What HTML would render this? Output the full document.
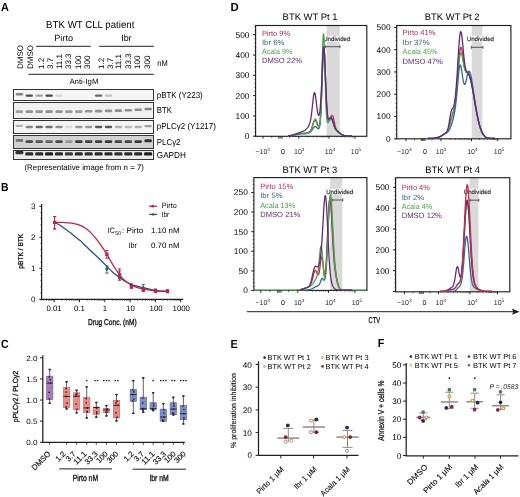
<!DOCTYPE html>
<html><head><meta charset="utf-8"><style>
html,body{margin:0;padding:0;background:#fff;}
svg{display:block;will-change:transform;text-rendering:geometricPrecision;font-family:"Liberation Sans", sans-serif;}
</style></head><body>
<svg width="520" height="497" viewBox="0 0 520 497">
<rect width="520" height="497" fill="#fff"/>
<text x="0.90" y="10.70" font-size="11.8" textLength="7.90" lengthAdjust="spacingAndGlyphs" font-weight="bold">A</text>
<text x="46.10" y="27.80" font-size="10.2" textLength="88.30" lengthAdjust="spacingAndGlyphs">BTK WT CLL patient</text>
<text x="54.30" y="41.20" font-size="9.0" textLength="18.70" lengthAdjust="spacingAndGlyphs">Pirto</text>
<text x="121.20" y="41.20" font-size="9.0" textLength="10.40" lengthAdjust="spacingAndGlyphs">Ibr</text>
<line x1="36.20" y1="46.30" x2="90.80" y2="46.30" stroke="#231f20" stroke-width="1.0"/>
<line x1="99.20" y1="46.30" x2="153.90" y2="46.30" stroke="#231f20" stroke-width="1.0"/>
<text x="23.20" y="69.00" font-size="8.0" textLength="24.00" lengthAdjust="spacingAndGlyphs" transform="rotate(-90 23.20 69.00)">DMSO</text>
<text x="33.40" y="69.00" font-size="8.0" textLength="24.00" lengthAdjust="spacingAndGlyphs" transform="rotate(-90 33.40 69.00)">DMSO</text>
<text x="44.10" y="69.00" font-size="8.0" transform="rotate(-90 44.10 69.00)">1.2</text>
<text x="52.90" y="69.00" font-size="8.0" transform="rotate(-90 52.90 69.00)">3.7</text>
<text x="61.80" y="69.00" font-size="8.0" transform="rotate(-90 61.80 69.00)">11.1</text>
<text x="71.10" y="69.00" font-size="8.0" transform="rotate(-90 71.10 69.00)">33.3</text>
<text x="81.10" y="69.00" font-size="8.0" transform="rotate(-90 81.10 69.00)">100</text>
<text x="90.30" y="69.00" font-size="8.0" transform="rotate(-90 90.30 69.00)">300</text>
<text x="104.00" y="69.00" font-size="8.0" transform="rotate(-90 104.00 69.00)">1.2</text>
<text x="113.20" y="69.00" font-size="8.0" transform="rotate(-90 113.20 69.00)">3.7</text>
<text x="121.30" y="69.00" font-size="8.0" transform="rotate(-90 121.30 69.00)">11.1</text>
<text x="130.90" y="69.00" font-size="8.0" transform="rotate(-90 130.90 69.00)">33.3</text>
<text x="140.40" y="69.00" font-size="8.0" transform="rotate(-90 140.40 69.00)">100</text>
<text x="150.30" y="69.00" font-size="8.0" transform="rotate(-90 150.30 69.00)">300</text>
<text x="157.30" y="65.70" font-size="8.5" textLength="10.40" lengthAdjust="spacingAndGlyphs">nM</text>
<line x1="28.50" y1="74.30" x2="153.90" y2="74.30" stroke="#231f20" stroke-width="1.0"/>
<text x="69.40" y="84.00" font-size="7.8" textLength="29.00" lengthAdjust="spacingAndGlyphs">Anti-IgM</text>
<defs><filter id="bl" x="-20%" y="-50%" width="140%" height="200%"><feGaussianBlur stdDeviation="0.45"/></filter></defs>
<rect x="13.50" y="89.50" width="140.00" height="11.00" fill="#f5f5f5"/>
<g filter="url(#bl)">
<rect x="15.70" y="93.10" width="7.4" height="2.40" rx="1.2" fill="rgb(132,132,132)"/>
<rect x="25.60" y="94.40" width="7.4" height="2.40" rx="1.2" fill="rgb(78,78,78)"/>
<rect x="35.50" y="94.40" width="7.4" height="2.40" rx="1.2" fill="rgb(164,164,164)"/>
<rect x="45.40" y="94.40" width="7.4" height="2.40" rx="1.2" fill="rgb(72,72,72)"/>
<rect x="55.30" y="94.40" width="7.4" height="2.40" rx="1.2" fill="rgb(214,214,214)"/>
<rect x="94.90" y="94.40" width="7.4" height="2.40" rx="1.2" fill="rgb(106,106,106)"/>
<rect x="104.80" y="94.40" width="7.4" height="2.40" rx="1.2" fill="rgb(192,192,192)"/>
</g>
<rect x="13.50" y="89.50" width="140.00" height="11.00" fill="none" stroke="#333333" stroke-width="1.0"/>
<rect x="13.50" y="102.50" width="140.00" height="16.00" fill="#f0f0f0"/>
<g filter="url(#bl)">
<rect x="15.70" y="110.30" width="7.4" height="2.60" rx="1.2" fill="rgb(158,158,158)"/>
<rect x="25.60" y="110.30" width="7.4" height="2.60" rx="1.2" fill="rgb(145,145,145)"/>
<rect x="35.50" y="110.30" width="7.4" height="2.60" rx="1.2" fill="rgb(145,145,145)"/>
<rect x="45.40" y="110.30" width="7.4" height="2.60" rx="1.2" fill="rgb(141,141,141)"/>
<rect x="55.30" y="110.30" width="7.4" height="2.60" rx="1.2" fill="rgb(145,145,145)"/>
<rect x="65.20" y="110.30" width="7.4" height="2.60" rx="1.2" fill="rgb(154,154,154)"/>
<rect x="75.10" y="110.30" width="7.4" height="2.60" rx="1.2" fill="rgb(154,154,154)"/>
<rect x="85.00" y="110.00" width="7.4" height="2.60" rx="1.2" fill="rgb(145,145,145)"/>
<rect x="94.90" y="109.80" width="7.4" height="2.60" rx="1.2" fill="rgb(145,145,145)"/>
<rect x="104.80" y="109.60" width="7.4" height="2.60" rx="1.2" fill="rgb(145,145,145)"/>
<rect x="114.70" y="109.30" width="7.4" height="2.60" rx="1.2" fill="rgb(145,145,145)"/>
<rect x="124.60" y="109.00" width="7.4" height="2.60" rx="1.2" fill="rgb(145,145,145)"/>
<rect x="134.50" y="108.50" width="7.4" height="2.60" rx="1.2" fill="rgb(141,141,141)"/>
<rect x="144.40" y="107.70" width="7.4" height="2.60" rx="1.2" fill="rgb(132,132,132)"/>
</g>
<rect x="13.50" y="102.50" width="140.00" height="16.00" fill="none" stroke="#333333" stroke-width="1.0"/>
<rect x="13.50" y="120.50" width="140.00" height="13.00" fill="#f4f4f4"/>
<g filter="url(#bl)">
<rect x="15.70" y="124.65" width="7.4" height="2.30" rx="1.2" fill="rgb(175,175,175)"/>
<rect x="25.60" y="125.85" width="7.4" height="2.30" rx="1.2" fill="rgb(132,132,132)"/>
<rect x="35.50" y="125.85" width="7.4" height="2.30" rx="1.2" fill="rgb(100,100,100)"/>
<rect x="45.40" y="125.85" width="7.4" height="2.30" rx="1.2" fill="rgb(111,111,111)"/>
<rect x="55.30" y="125.85" width="7.4" height="2.30" rx="1.2" fill="rgb(143,143,143)"/>
<rect x="65.20" y="125.85" width="7.4" height="2.30" rx="1.2" fill="rgb(218,218,218)"/>
<rect x="75.10" y="125.85" width="7.4" height="2.30" rx="1.2" fill="rgb(149,149,149)"/>
<rect x="85.00" y="125.85" width="7.4" height="2.30" rx="1.2" fill="rgb(154,154,154)"/>
<rect x="94.90" y="125.85" width="7.4" height="2.30" rx="1.2" fill="rgb(89,89,89)"/>
<rect x="104.80" y="125.85" width="7.4" height="2.30" rx="1.2" fill="rgb(89,89,89)"/>
<rect x="114.70" y="125.85" width="7.4" height="2.30" rx="1.2" fill="rgb(175,175,175)"/>
<rect x="124.60" y="125.85" width="7.4" height="2.30" rx="1.2" fill="rgb(186,186,186)"/>
<rect x="134.50" y="125.85" width="7.4" height="2.30" rx="1.2" fill="rgb(175,175,175)"/>
<rect x="144.40" y="125.05" width="7.4" height="2.30" rx="1.2" fill="rgb(158,158,158)"/>
</g>
<rect x="13.50" y="120.50" width="140.00" height="13.00" fill="none" stroke="#333333" stroke-width="1.0"/>
<rect x="13.50" y="135.50" width="140.00" height="13.00" fill="#d2d2d2"/>
<g filter="url(#bl)">
<rect x="15.70" y="138.95" width="7.4" height="2.90" rx="1.2" fill="rgb(111,111,111)"/>
<rect x="25.60" y="140.15" width="7.4" height="2.90" rx="1.2" fill="rgb(72,72,72)"/>
<rect x="35.50" y="140.15" width="7.4" height="2.90" rx="1.2" fill="rgb(85,85,85)"/>
<rect x="45.40" y="140.15" width="7.4" height="2.90" rx="1.2" fill="rgb(98,98,98)"/>
<rect x="55.30" y="140.15" width="7.4" height="2.90" rx="1.2" fill="rgb(72,72,72)"/>
<rect x="65.20" y="140.15" width="7.4" height="2.90" rx="1.2" fill="rgb(149,149,149)"/>
<rect x="75.10" y="140.15" width="7.4" height="2.90" rx="1.2" fill="rgb(57,57,57)"/>
<rect x="85.00" y="140.15" width="7.4" height="2.90" rx="1.2" fill="rgb(63,63,63)"/>
<rect x="94.90" y="140.15" width="7.4" height="2.90" rx="1.2" fill="rgb(63,63,63)"/>
<rect x="104.80" y="140.15" width="7.4" height="2.90" rx="1.2" fill="rgb(57,57,57)"/>
<rect x="114.70" y="140.15" width="7.4" height="2.90" rx="1.2" fill="rgb(68,68,68)"/>
<rect x="124.60" y="140.15" width="7.4" height="2.90" rx="1.2" fill="rgb(68,68,68)"/>
<rect x="134.50" y="140.15" width="7.4" height="2.90" rx="1.2" fill="rgb(57,57,57)"/>
<rect x="144.40" y="139.35" width="7.4" height="2.90" rx="1.2" fill="rgb(46,46,46)"/>
</g>
<rect x="13.50" y="135.50" width="140.00" height="13.00" fill="none" stroke="#333333" stroke-width="1.0"/>
<rect x="13.50" y="150.50" width="140.00" height="9.00" fill="#ececec"/>
<g filter="url(#bl)">
<rect x="15.40" y="150.90" width="8.0" height="3.40" rx="1.2" fill="rgb(50,50,50)"/>
<rect x="25.30" y="152.20" width="8.0" height="3.40" rx="1.2" fill="rgb(42,42,42)"/>
<rect x="35.20" y="152.20" width="8.0" height="3.40" rx="1.2" fill="rgb(42,42,42)"/>
<rect x="45.10" y="152.20" width="8.0" height="3.40" rx="1.2" fill="rgb(31,31,31)"/>
<rect x="55.00" y="152.20" width="8.0" height="3.40" rx="1.2" fill="rgb(42,42,42)"/>
<rect x="64.90" y="152.20" width="8.0" height="3.40" rx="1.2" fill="rgb(57,57,57)"/>
<rect x="74.80" y="152.20" width="8.0" height="3.40" rx="1.2" fill="rgb(42,42,42)"/>
<rect x="84.70" y="152.20" width="8.0" height="3.40" rx="1.2" fill="rgb(46,46,46)"/>
<rect x="94.60" y="152.20" width="8.0" height="3.40" rx="1.2" fill="rgb(42,42,42)"/>
<rect x="104.50" y="152.20" width="8.0" height="3.40" rx="1.2" fill="rgb(42,42,42)"/>
<rect x="114.40" y="152.20" width="8.0" height="3.40" rx="1.2" fill="rgb(46,46,46)"/>
<rect x="124.30" y="152.20" width="8.0" height="3.40" rx="1.2" fill="rgb(42,42,42)"/>
<rect x="134.20" y="152.20" width="8.0" height="3.40" rx="1.2" fill="rgb(42,42,42)"/>
<rect x="144.10" y="152.20" width="8.0" height="3.40" rx="1.2" fill="rgb(31,31,31)"/>
</g>
<rect x="13.50" y="150.50" width="140.00" height="9.00" fill="none" stroke="#333333" stroke-width="1.0"/>
<text x="156.80" y="97.80" font-size="8.6" textLength="45.90" lengthAdjust="spacingAndGlyphs">pBTK (Y223)</text>
<text x="156.80" y="113.20" font-size="8.6" textLength="15.10" lengthAdjust="spacingAndGlyphs">BTK</text>
<text x="156.80" y="129.20" font-size="8.6" textLength="59.10" lengthAdjust="spacingAndGlyphs">pPLC&#947;2 (Y1217)</text>
<text x="156.80" y="144.90" font-size="8.6" textLength="23.70" lengthAdjust="spacingAndGlyphs">PLC&#947;2</text>
<text x="156.80" y="158.30" font-size="8.6" textLength="29.10" lengthAdjust="spacingAndGlyphs">GAPDH</text>
<text x="24.50" y="170.30" font-size="7.9" textLength="119.40" lengthAdjust="spacingAndGlyphs">(Representative image from n = 7)</text>
<text x="0.90" y="191.10" font-size="11.8" textLength="7.50" lengthAdjust="spacingAndGlyphs" font-weight="bold">B</text>
<line x1="41.60" y1="203.90" x2="41.60" y2="299.90" stroke="#231f20" stroke-width="1.25"/>
<line x1="41.10" y1="299.30" x2="183.30" y2="299.30" stroke="#231f20" stroke-width="1.25"/>
<line x1="39.30" y1="299.30" x2="41.60" y2="299.30" stroke="#231f20" stroke-width="1.0"/>
<text x="35.40" y="301.50" font-size="8.0" text-anchor="end">0</text>
<line x1="39.30" y1="268.30" x2="41.60" y2="268.30" stroke="#231f20" stroke-width="1.0"/>
<text x="35.40" y="270.50" font-size="8.0" text-anchor="end">1</text>
<line x1="39.30" y1="237.30" x2="41.60" y2="237.30" stroke="#231f20" stroke-width="1.0"/>
<text x="35.40" y="239.50" font-size="8.0" text-anchor="end">2</text>
<line x1="39.30" y1="206.30" x2="41.60" y2="206.30" stroke="#231f20" stroke-width="1.0"/>
<text x="35.40" y="208.50" font-size="8.0" text-anchor="end">3</text>
<line x1="40.30" y1="293.10" x2="41.60" y2="293.10" stroke="#231f20" stroke-width="0.7"/>
<line x1="40.30" y1="286.90" x2="41.60" y2="286.90" stroke="#231f20" stroke-width="0.7"/>
<line x1="40.30" y1="280.70" x2="41.60" y2="280.70" stroke="#231f20" stroke-width="0.7"/>
<line x1="40.30" y1="274.50" x2="41.60" y2="274.50" stroke="#231f20" stroke-width="0.7"/>
<line x1="40.30" y1="262.10" x2="41.60" y2="262.10" stroke="#231f20" stroke-width="0.7"/>
<line x1="40.30" y1="255.90" x2="41.60" y2="255.90" stroke="#231f20" stroke-width="0.7"/>
<line x1="40.30" y1="249.70" x2="41.60" y2="249.70" stroke="#231f20" stroke-width="0.7"/>
<line x1="40.30" y1="243.50" x2="41.60" y2="243.50" stroke="#231f20" stroke-width="0.7"/>
<line x1="40.30" y1="231.10" x2="41.60" y2="231.10" stroke="#231f20" stroke-width="0.7"/>
<line x1="40.30" y1="224.90" x2="41.60" y2="224.90" stroke="#231f20" stroke-width="0.7"/>
<line x1="40.30" y1="218.70" x2="41.60" y2="218.70" stroke="#231f20" stroke-width="0.7"/>
<line x1="40.30" y1="212.50" x2="41.60" y2="212.50" stroke="#231f20" stroke-width="0.7"/>
<line x1="40.97" y1="299.30" x2="40.97" y2="300.90" stroke="#231f20" stroke-width="0.6"/>
<line x1="44.13" y1="299.30" x2="44.13" y2="300.90" stroke="#231f20" stroke-width="0.6"/>
<line x1="46.58" y1="299.30" x2="46.58" y2="300.90" stroke="#231f20" stroke-width="0.6"/>
<line x1="48.59" y1="299.30" x2="48.59" y2="300.90" stroke="#231f20" stroke-width="0.6"/>
<line x1="50.28" y1="299.30" x2="50.28" y2="300.90" stroke="#231f20" stroke-width="0.6"/>
<line x1="51.75" y1="299.30" x2="51.75" y2="300.90" stroke="#231f20" stroke-width="0.6"/>
<line x1="53.04" y1="299.30" x2="53.04" y2="300.90" stroke="#231f20" stroke-width="0.6"/>
<line x1="54.20" y1="299.30" x2="54.20" y2="302.20" stroke="#231f20" stroke-width="1.0"/>
<line x1="61.82" y1="299.30" x2="61.82" y2="300.90" stroke="#231f20" stroke-width="0.6"/>
<line x1="66.27" y1="299.30" x2="66.27" y2="300.90" stroke="#231f20" stroke-width="0.6"/>
<line x1="69.43" y1="299.30" x2="69.43" y2="300.90" stroke="#231f20" stroke-width="0.6"/>
<line x1="71.88" y1="299.30" x2="71.88" y2="300.90" stroke="#231f20" stroke-width="0.6"/>
<line x1="73.89" y1="299.30" x2="73.89" y2="300.90" stroke="#231f20" stroke-width="0.6"/>
<line x1="75.58" y1="299.30" x2="75.58" y2="300.90" stroke="#231f20" stroke-width="0.6"/>
<line x1="77.05" y1="299.30" x2="77.05" y2="300.90" stroke="#231f20" stroke-width="0.6"/>
<line x1="78.34" y1="299.30" x2="78.34" y2="300.90" stroke="#231f20" stroke-width="0.6"/>
<line x1="79.50" y1="299.30" x2="79.50" y2="302.20" stroke="#231f20" stroke-width="1.0"/>
<line x1="87.12" y1="299.30" x2="87.12" y2="300.90" stroke="#231f20" stroke-width="0.6"/>
<line x1="91.57" y1="299.30" x2="91.57" y2="300.90" stroke="#231f20" stroke-width="0.6"/>
<line x1="94.73" y1="299.30" x2="94.73" y2="300.90" stroke="#231f20" stroke-width="0.6"/>
<line x1="97.18" y1="299.30" x2="97.18" y2="300.90" stroke="#231f20" stroke-width="0.6"/>
<line x1="99.19" y1="299.30" x2="99.19" y2="300.90" stroke="#231f20" stroke-width="0.6"/>
<line x1="100.88" y1="299.30" x2="100.88" y2="300.90" stroke="#231f20" stroke-width="0.6"/>
<line x1="102.35" y1="299.30" x2="102.35" y2="300.90" stroke="#231f20" stroke-width="0.6"/>
<line x1="103.64" y1="299.30" x2="103.64" y2="300.90" stroke="#231f20" stroke-width="0.6"/>
<line x1="104.80" y1="299.30" x2="104.80" y2="302.20" stroke="#231f20" stroke-width="1.0"/>
<line x1="112.42" y1="299.30" x2="112.42" y2="300.90" stroke="#231f20" stroke-width="0.6"/>
<line x1="116.87" y1="299.30" x2="116.87" y2="300.90" stroke="#231f20" stroke-width="0.6"/>
<line x1="120.03" y1="299.30" x2="120.03" y2="300.90" stroke="#231f20" stroke-width="0.6"/>
<line x1="122.48" y1="299.30" x2="122.48" y2="300.90" stroke="#231f20" stroke-width="0.6"/>
<line x1="124.49" y1="299.30" x2="124.49" y2="300.90" stroke="#231f20" stroke-width="0.6"/>
<line x1="126.18" y1="299.30" x2="126.18" y2="300.90" stroke="#231f20" stroke-width="0.6"/>
<line x1="127.65" y1="299.30" x2="127.65" y2="300.90" stroke="#231f20" stroke-width="0.6"/>
<line x1="128.94" y1="299.30" x2="128.94" y2="300.90" stroke="#231f20" stroke-width="0.6"/>
<line x1="130.10" y1="299.30" x2="130.10" y2="302.20" stroke="#231f20" stroke-width="1.0"/>
<line x1="137.72" y1="299.30" x2="137.72" y2="300.90" stroke="#231f20" stroke-width="0.6"/>
<line x1="142.17" y1="299.30" x2="142.17" y2="300.90" stroke="#231f20" stroke-width="0.6"/>
<line x1="145.33" y1="299.30" x2="145.33" y2="300.90" stroke="#231f20" stroke-width="0.6"/>
<line x1="147.78" y1="299.30" x2="147.78" y2="300.90" stroke="#231f20" stroke-width="0.6"/>
<line x1="149.79" y1="299.30" x2="149.79" y2="300.90" stroke="#231f20" stroke-width="0.6"/>
<line x1="151.48" y1="299.30" x2="151.48" y2="300.90" stroke="#231f20" stroke-width="0.6"/>
<line x1="152.95" y1="299.30" x2="152.95" y2="300.90" stroke="#231f20" stroke-width="0.6"/>
<line x1="154.24" y1="299.30" x2="154.24" y2="300.90" stroke="#231f20" stroke-width="0.6"/>
<line x1="155.40" y1="299.30" x2="155.40" y2="302.20" stroke="#231f20" stroke-width="1.0"/>
<line x1="163.02" y1="299.30" x2="163.02" y2="300.90" stroke="#231f20" stroke-width="0.6"/>
<line x1="167.47" y1="299.30" x2="167.47" y2="300.90" stroke="#231f20" stroke-width="0.6"/>
<line x1="170.63" y1="299.30" x2="170.63" y2="300.90" stroke="#231f20" stroke-width="0.6"/>
<line x1="173.08" y1="299.30" x2="173.08" y2="300.90" stroke="#231f20" stroke-width="0.6"/>
<line x1="175.09" y1="299.30" x2="175.09" y2="300.90" stroke="#231f20" stroke-width="0.6"/>
<line x1="176.78" y1="299.30" x2="176.78" y2="300.90" stroke="#231f20" stroke-width="0.6"/>
<line x1="178.25" y1="299.30" x2="178.25" y2="300.90" stroke="#231f20" stroke-width="0.6"/>
<line x1="179.54" y1="299.30" x2="179.54" y2="300.90" stroke="#231f20" stroke-width="0.6"/>
<line x1="180.70" y1="299.30" x2="180.70" y2="302.20" stroke="#231f20" stroke-width="1.0"/>
<text x="54.00" y="311.40" font-size="7.8" text-anchor="middle">0.01</text>
<text x="79.30" y="311.40" font-size="7.8" text-anchor="middle">0.1</text>
<text x="104.90" y="311.40" font-size="7.8" text-anchor="middle">1</text>
<text x="130.60" y="311.40" font-size="7.8" text-anchor="middle">10</text>
<text x="156.10" y="311.40" font-size="7.8" text-anchor="middle">100</text>
<text x="181.30" y="311.40" font-size="7.8" text-anchor="middle">1000</text>
<text x="88.00" y="324.60" font-size="8.6" textLength="48.60" lengthAdjust="spacingAndGlyphs" stroke="#231f20" stroke-width="0.35">Drug Conc. (nM)</text>
<text x="22.90" y="268.70" font-size="7.1" textLength="35.00" lengthAdjust="spacingAndGlyphs" transform="rotate(-90 22.90 268.70)" stroke="#231f20" stroke-width="0.3">pBTK / BTK</text>
<path d="M54.60,222.50 C55.50,222.95 58.27,224.15 60.00,225.20 C61.73,226.25 63.32,227.57 65.00,228.80 C66.68,230.03 68.43,231.32 70.10,232.60 C71.77,233.88 73.33,235.17 75.00,236.50 C76.67,237.83 78.43,239.15 80.10,240.60 C81.77,242.05 83.32,243.60 85.00,245.20 C86.68,246.80 88.53,248.60 90.20,250.20 C91.87,251.80 93.33,253.22 95.00,254.80 C96.67,256.38 98.78,258.33 100.20,259.70 C101.62,261.07 102.38,261.88 103.50,263.00 C104.62,264.12 105.32,264.83 106.90,266.40 C108.48,267.97 110.90,270.55 113.00,272.40 C115.10,274.25 117.58,276.07 119.50,277.50 C121.42,278.93 122.52,279.83 124.50,281.00 C126.48,282.17 129.23,283.62 131.40,284.50 C133.57,285.38 135.52,285.78 137.50,286.30 C139.48,286.82 140.30,286.93 143.30,287.60 C146.30,288.27 151.47,289.70 155.50,290.30 C159.53,290.90 165.50,291.05 167.50,291.20" stroke="#27527f" stroke-width="1.3" fill="none"/>
<path d="M54.60,222.50 C55.85,222.48 59.85,222.35 62.10,222.40 C64.35,222.45 66.10,222.60 68.10,222.80 C70.10,223.00 72.08,223.17 74.10,223.60 C76.12,224.03 78.35,224.67 80.20,225.40 C82.05,226.13 83.53,226.88 85.20,228.00 C86.87,229.12 88.53,230.50 90.20,232.10 C91.87,233.70 93.53,235.60 95.20,237.60 C96.87,239.60 98.68,242.00 100.20,244.10 C101.72,246.20 103.18,248.48 104.30,250.20 C105.42,251.92 105.45,251.93 106.90,254.40 C108.35,256.87 110.90,261.63 113.00,265.00 C115.10,268.37 117.58,272.05 119.50,274.60 C121.42,277.15 122.52,278.58 124.50,280.30 C126.48,282.02 129.23,283.68 131.40,284.90 C133.57,286.12 135.52,286.90 137.50,287.60 C139.48,288.30 140.30,288.55 143.30,289.10 C146.30,289.65 151.47,290.52 155.50,290.90 C159.53,291.28 165.50,291.32 167.50,291.40" stroke="#c8203c" stroke-width="1.3" fill="none"/>
<line x1="54.60" y1="216.50" x2="54.60" y2="228.90" stroke="#27527f" stroke-width="0.9"/>
<line x1="53.00" y1="216.50" x2="56.20" y2="216.50" stroke="#27527f" stroke-width="0.9"/>
<line x1="53.00" y1="228.90" x2="56.20" y2="228.90" stroke="#27527f" stroke-width="0.9"/>
<circle cx="54.60" cy="222.50" r="1.6" fill="#27527f"/>
<line x1="106.90" y1="265.90" x2="106.90" y2="273.10" stroke="#27527f" stroke-width="0.9"/>
<line x1="105.30" y1="265.90" x2="108.50" y2="265.90" stroke="#27527f" stroke-width="0.9"/>
<line x1="105.30" y1="273.10" x2="108.50" y2="273.10" stroke="#27527f" stroke-width="0.9"/>
<circle cx="106.90" cy="268.80" r="1.6" fill="#27527f"/>
<line x1="119.50" y1="271.00" x2="119.50" y2="280.30" stroke="#27527f" stroke-width="0.9"/>
<line x1="117.90" y1="271.00" x2="121.10" y2="271.00" stroke="#27527f" stroke-width="0.9"/>
<line x1="117.90" y1="280.30" x2="121.10" y2="280.30" stroke="#27527f" stroke-width="0.9"/>
<circle cx="119.50" cy="277.50" r="1.6" fill="#27527f"/>
<line x1="131.40" y1="283.80" x2="131.40" y2="287.00" stroke="#27527f" stroke-width="0.9"/>
<line x1="129.80" y1="283.80" x2="133.00" y2="283.80" stroke="#27527f" stroke-width="0.9"/>
<line x1="129.80" y1="287.00" x2="133.00" y2="287.00" stroke="#27527f" stroke-width="0.9"/>
<circle cx="131.40" cy="285.40" r="1.6" fill="#27527f"/>
<line x1="143.30" y1="284.70" x2="143.30" y2="290.00" stroke="#27527f" stroke-width="0.9"/>
<line x1="141.70" y1="284.70" x2="144.90" y2="284.70" stroke="#27527f" stroke-width="0.9"/>
<line x1="141.70" y1="290.00" x2="144.90" y2="290.00" stroke="#27527f" stroke-width="0.9"/>
<circle cx="143.30" cy="288.00" r="1.6" fill="#27527f"/>
<line x1="155.50" y1="289.00" x2="155.50" y2="291.80" stroke="#27527f" stroke-width="0.9"/>
<line x1="153.90" y1="289.00" x2="157.10" y2="289.00" stroke="#27527f" stroke-width="0.9"/>
<line x1="153.90" y1="291.80" x2="157.10" y2="291.80" stroke="#27527f" stroke-width="0.9"/>
<circle cx="155.50" cy="290.40" r="1.6" fill="#27527f"/>
<line x1="167.50" y1="290.00" x2="167.50" y2="292.50" stroke="#27527f" stroke-width="0.9"/>
<line x1="165.90" y1="290.00" x2="169.10" y2="290.00" stroke="#27527f" stroke-width="0.9"/>
<line x1="165.90" y1="292.50" x2="169.10" y2="292.50" stroke="#27527f" stroke-width="0.9"/>
<circle cx="167.50" cy="291.20" r="1.6" fill="#27527f"/>
<line x1="54.60" y1="216.50" x2="54.60" y2="228.90" stroke="#c8203c" stroke-width="0.9"/>
<line x1="53.00" y1="216.50" x2="56.20" y2="216.50" stroke="#c8203c" stroke-width="0.9"/>
<line x1="53.00" y1="228.90" x2="56.20" y2="228.90" stroke="#c8203c" stroke-width="0.9"/>
<rect x="53.00" y="220.90" width="3.20" height="3.20" fill="#c8203c"/>
<line x1="106.90" y1="250.50" x2="106.90" y2="258.30" stroke="#c8203c" stroke-width="0.9"/>
<line x1="105.30" y1="250.50" x2="108.50" y2="250.50" stroke="#c8203c" stroke-width="0.9"/>
<line x1="105.30" y1="258.30" x2="108.50" y2="258.30" stroke="#c8203c" stroke-width="0.9"/>
<rect x="105.30" y="252.80" width="3.20" height="3.20" fill="#c8203c"/>
<line x1="119.50" y1="268.80" x2="119.50" y2="278.90" stroke="#c8203c" stroke-width="0.9"/>
<line x1="117.90" y1="268.80" x2="121.10" y2="268.80" stroke="#c8203c" stroke-width="0.9"/>
<line x1="117.90" y1="278.90" x2="121.10" y2="278.90" stroke="#c8203c" stroke-width="0.9"/>
<rect x="117.90" y="273.00" width="3.20" height="3.20" fill="#c8203c"/>
<line x1="131.40" y1="285.20" x2="131.40" y2="288.40" stroke="#c8203c" stroke-width="0.9"/>
<line x1="129.80" y1="285.20" x2="133.00" y2="285.20" stroke="#c8203c" stroke-width="0.9"/>
<line x1="129.80" y1="288.40" x2="133.00" y2="288.40" stroke="#c8203c" stroke-width="0.9"/>
<rect x="129.80" y="285.20" width="3.20" height="3.20" fill="#c8203c"/>
<line x1="143.30" y1="288.60" x2="143.30" y2="291.40" stroke="#c8203c" stroke-width="0.9"/>
<line x1="141.70" y1="288.60" x2="144.90" y2="288.60" stroke="#c8203c" stroke-width="0.9"/>
<line x1="141.70" y1="291.40" x2="144.90" y2="291.40" stroke="#c8203c" stroke-width="0.9"/>
<rect x="141.70" y="288.40" width="3.20" height="3.20" fill="#c8203c"/>
<line x1="155.50" y1="289.80" x2="155.50" y2="292.60" stroke="#c8203c" stroke-width="0.9"/>
<line x1="153.90" y1="289.80" x2="157.10" y2="289.80" stroke="#c8203c" stroke-width="0.9"/>
<line x1="153.90" y1="292.60" x2="157.10" y2="292.60" stroke="#c8203c" stroke-width="0.9"/>
<rect x="153.90" y="289.60" width="3.20" height="3.20" fill="#c8203c"/>
<line x1="167.50" y1="290.00" x2="167.50" y2="292.80" stroke="#c8203c" stroke-width="0.9"/>
<line x1="165.90" y1="290.00" x2="169.10" y2="290.00" stroke="#c8203c" stroke-width="0.9"/>
<line x1="165.90" y1="292.80" x2="169.10" y2="292.80" stroke="#c8203c" stroke-width="0.9"/>
<rect x="165.90" y="289.80" width="3.20" height="3.20" fill="#c8203c"/>
<line x1="149.00" y1="206.20" x2="157.10" y2="206.20" stroke="#c8203c" stroke-width="1.25"/>
<rect x="151.60" y="205.00" width="2.40" height="2.40" fill="#c8203c"/>
<text x="161.80" y="208.40" font-size="7.6" textLength="14.90" lengthAdjust="spacingAndGlyphs">Pirto</text>
<line x1="149.00" y1="214.40" x2="157.10" y2="214.40" stroke="#27527f" stroke-width="1.25"/>
<circle cx="153.10" cy="214.40" r="1.2" fill="#27527f"/>
<text x="161.80" y="216.60" font-size="7.6" textLength="7.40" lengthAdjust="spacingAndGlyphs">Ibr</text>
<text x="107.80" y="233.40" font-size="7.8" textLength="7.00" lengthAdjust="spacingAndGlyphs">IC</text>
<text x="115.30" y="235.40" font-size="5.4" textLength="6.00" lengthAdjust="spacingAndGlyphs">50</text>
<text x="122.00" y="233.40" font-size="7.8" textLength="21.20" lengthAdjust="spacingAndGlyphs">: Pirto</text>
<text x="151.00" y="233.40" font-size="7.8" textLength="28.60" lengthAdjust="spacingAndGlyphs">1.10 nM</text>
<text x="128.60" y="247.80" font-size="7.8" textLength="8.30" lengthAdjust="spacingAndGlyphs">Ibr</text>
<text x="151.00" y="247.80" font-size="7.8" textLength="28.60" lengthAdjust="spacingAndGlyphs">0.70 nM</text>
<text x="1.00" y="347.70" font-size="11.8" textLength="7.60" lengthAdjust="spacingAndGlyphs" font-weight="bold">C</text>
<line x1="42.80" y1="355.20" x2="42.80" y2="442.80" stroke="#231f20" stroke-width="1.25"/>
<line x1="42.30" y1="442.30" x2="184.80" y2="442.30" stroke="#231f20" stroke-width="1.25"/>
<line x1="40.00" y1="442.30" x2="42.80" y2="442.30" stroke="#231f20" stroke-width="1.0"/>
<text x="37.60" y="445.00" font-size="7.6" text-anchor="end" textLength="11.30" lengthAdjust="spacingAndGlyphs">0.0</text>
<line x1="40.00" y1="421.18" x2="42.80" y2="421.18" stroke="#231f20" stroke-width="1.0"/>
<text x="37.60" y="423.88" font-size="7.6" text-anchor="end" textLength="11.30" lengthAdjust="spacingAndGlyphs">0.5</text>
<line x1="40.00" y1="400.05" x2="42.80" y2="400.05" stroke="#231f20" stroke-width="1.0"/>
<text x="37.60" y="402.75" font-size="7.6" text-anchor="end" textLength="11.30" lengthAdjust="spacingAndGlyphs">1.0</text>
<line x1="40.00" y1="378.93" x2="42.80" y2="378.93" stroke="#231f20" stroke-width="1.0"/>
<text x="37.60" y="381.62" font-size="7.6" text-anchor="end" textLength="11.30" lengthAdjust="spacingAndGlyphs">1.5</text>
<line x1="40.00" y1="357.80" x2="42.80" y2="357.80" stroke="#231f20" stroke-width="1.0"/>
<text x="37.60" y="360.50" font-size="7.6" text-anchor="end" textLength="11.30" lengthAdjust="spacingAndGlyphs">2.0</text>
<text x="17.80" y="422.20" font-size="7.4" textLength="51.20" lengthAdjust="spacingAndGlyphs" transform="rotate(-90 17.80 422.20)" stroke="#231f20" stroke-width="0.3">pPLC&#947;2 / PLC&#947;2</text>
<line x1="49.70" y1="369.30" x2="49.70" y2="403.30" stroke="#3a3a3a" stroke-width="0.8"/>
<line x1="48.40" y1="369.30" x2="51.00" y2="369.30" stroke="#2a2a2a" stroke-width="0.9"/>
<line x1="48.40" y1="403.30" x2="51.00" y2="403.30" stroke="#2a2a2a" stroke-width="0.9"/>
<rect x="46.50" y="376.10" width="6.40" height="23.50" fill="#a57bbd" stroke="#82579a" stroke-width="0.6"/>
<line x1="46.50" y1="383.10" x2="52.90" y2="383.10" stroke="#3a1f33" stroke-width="1.0"/>
<circle cx="49.70" cy="369.60" r="0.95" fill="#262626"/>
<circle cx="49.70" cy="403.00" r="0.95" fill="#262626"/>
<circle cx="49.20" cy="376.90" r="0.85" fill="#2e1e2a"/>
<circle cx="50.20" cy="379.60" r="0.85" fill="#2e1e2a"/>
<circle cx="50.20" cy="383.10" r="0.85" fill="#2e1e2a"/>
<circle cx="49.20" cy="392.35" r="0.85" fill="#2e1e2a"/>
<circle cx="49.20" cy="398.80" r="0.85" fill="#2e1e2a"/>
<line x1="49.70" y1="442.30" x2="49.70" y2="444.60" stroke="#231f20" stroke-width="0.9"/>
<line x1="66.60" y1="381.70" x2="66.60" y2="409.00" stroke="#3a3a3a" stroke-width="0.8"/>
<line x1="65.30" y1="381.70" x2="67.90" y2="381.70" stroke="#2a2a2a" stroke-width="0.9"/>
<line x1="65.30" y1="409.00" x2="67.90" y2="409.00" stroke="#2a2a2a" stroke-width="0.9"/>
<rect x="63.40" y="387.60" width="6.40" height="20.10" fill="#ea8a82" stroke="#cf6660" stroke-width="0.6"/>
<line x1="63.40" y1="396.40" x2="69.80" y2="396.40" stroke="#3a1f33" stroke-width="1.0"/>
<circle cx="66.60" cy="382.00" r="0.95" fill="#262626"/>
<circle cx="66.60" cy="408.70" r="0.95" fill="#262626"/>
<circle cx="66.10" cy="388.40" r="0.85" fill="#2e1e2a"/>
<circle cx="66.10" cy="392.00" r="0.85" fill="#2e1e2a"/>
<circle cx="66.10" cy="396.40" r="0.85" fill="#2e1e2a"/>
<circle cx="67.10" cy="403.05" r="0.85" fill="#2e1e2a"/>
<circle cx="66.10" cy="406.90" r="0.85" fill="#2e1e2a"/>
<line x1="66.60" y1="442.30" x2="66.60" y2="444.60" stroke="#231f20" stroke-width="0.9"/>
<line x1="76.60" y1="390.20" x2="76.60" y2="412.90" stroke="#3a3a3a" stroke-width="0.8"/>
<line x1="75.30" y1="390.20" x2="77.90" y2="390.20" stroke="#2a2a2a" stroke-width="0.9"/>
<line x1="75.30" y1="412.90" x2="77.90" y2="412.90" stroke="#2a2a2a" stroke-width="0.9"/>
<rect x="73.40" y="392.80" width="6.40" height="17.10" fill="#ea8a82" stroke="#cf6660" stroke-width="0.6"/>
<line x1="73.40" y1="396.20" x2="79.80" y2="396.20" stroke="#3a1f33" stroke-width="1.0"/>
<circle cx="76.60" cy="390.50" r="0.95" fill="#262626"/>
<circle cx="76.60" cy="412.60" r="0.95" fill="#262626"/>
<circle cx="77.10" cy="393.60" r="0.85" fill="#2e1e2a"/>
<circle cx="76.10" cy="394.50" r="0.85" fill="#2e1e2a"/>
<circle cx="76.10" cy="396.20" r="0.85" fill="#2e1e2a"/>
<circle cx="76.10" cy="404.05" r="0.85" fill="#2e1e2a"/>
<circle cx="77.10" cy="409.10" r="0.85" fill="#2e1e2a"/>
<line x1="76.60" y1="442.30" x2="76.60" y2="444.60" stroke="#231f20" stroke-width="0.9"/>
<line x1="86.70" y1="386.80" x2="86.70" y2="418.10" stroke="#3a3a3a" stroke-width="0.8"/>
<line x1="85.40" y1="386.80" x2="88.00" y2="386.80" stroke="#2a2a2a" stroke-width="0.9"/>
<line x1="85.40" y1="418.10" x2="88.00" y2="418.10" stroke="#2a2a2a" stroke-width="0.9"/>
<rect x="83.50" y="397.60" width="6.40" height="15.10" fill="#ea8a82" stroke="#cf6660" stroke-width="0.6"/>
<line x1="83.50" y1="407.90" x2="89.90" y2="407.90" stroke="#3a1f33" stroke-width="1.0"/>
<circle cx="86.70" cy="387.10" r="0.95" fill="#262626"/>
<circle cx="86.70" cy="417.80" r="0.95" fill="#262626"/>
<circle cx="86.20" cy="398.40" r="0.85" fill="#2e1e2a"/>
<circle cx="86.20" cy="402.75" r="0.85" fill="#2e1e2a"/>
<circle cx="87.20" cy="407.90" r="0.85" fill="#2e1e2a"/>
<circle cx="87.20" cy="411.30" r="0.85" fill="#2e1e2a"/>
<circle cx="87.20" cy="411.90" r="0.85" fill="#2e1e2a"/>
<line x1="86.70" y1="442.30" x2="86.70" y2="444.60" stroke="#231f20" stroke-width="0.9"/>
<line x1="96.30" y1="402.30" x2="96.30" y2="417.30" stroke="#3a3a3a" stroke-width="0.8"/>
<line x1="95.00" y1="402.30" x2="97.60" y2="402.30" stroke="#2a2a2a" stroke-width="0.9"/>
<line x1="95.00" y1="417.30" x2="97.60" y2="417.30" stroke="#2a2a2a" stroke-width="0.9"/>
<rect x="93.10" y="407.10" width="6.40" height="7.20" fill="#ea8a82" stroke="#cf6660" stroke-width="0.6"/>
<line x1="93.10" y1="407.50" x2="99.50" y2="407.50" stroke="#3a1f33" stroke-width="1.0"/>
<circle cx="96.30" cy="402.60" r="0.95" fill="#262626"/>
<circle cx="96.30" cy="417.00" r="0.95" fill="#262626"/>
<circle cx="96.80" cy="407.90" r="0.85" fill="#2e1e2a"/>
<circle cx="96.80" cy="407.30" r="0.85" fill="#2e1e2a"/>
<circle cx="96.80" cy="407.50" r="0.85" fill="#2e1e2a"/>
<circle cx="96.80" cy="411.90" r="0.85" fill="#2e1e2a"/>
<circle cx="96.80" cy="413.50" r="0.85" fill="#2e1e2a"/>
<line x1="96.30" y1="442.30" x2="96.30" y2="444.60" stroke="#231f20" stroke-width="0.9"/>
<line x1="106.40" y1="405.50" x2="106.40" y2="416.00" stroke="#3a3a3a" stroke-width="0.8"/>
<line x1="105.10" y1="405.50" x2="107.70" y2="405.50" stroke="#2a2a2a" stroke-width="0.9"/>
<line x1="105.10" y1="416.00" x2="107.70" y2="416.00" stroke="#2a2a2a" stroke-width="0.9"/>
<rect x="103.20" y="408.30" width="6.40" height="4.40" fill="#ea8a82" stroke="#cf6660" stroke-width="0.6"/>
<line x1="103.20" y1="409.90" x2="109.60" y2="409.90" stroke="#3a1f33" stroke-width="1.0"/>
<circle cx="106.40" cy="405.80" r="0.95" fill="#262626"/>
<circle cx="106.40" cy="415.70" r="0.95" fill="#262626"/>
<circle cx="106.90" cy="409.10" r="0.85" fill="#2e1e2a"/>
<circle cx="106.90" cy="409.10" r="0.85" fill="#2e1e2a"/>
<circle cx="106.90" cy="409.90" r="0.85" fill="#2e1e2a"/>
<circle cx="105.90" cy="412.30" r="0.85" fill="#2e1e2a"/>
<circle cx="106.90" cy="411.90" r="0.85" fill="#2e1e2a"/>
<line x1="106.40" y1="442.30" x2="106.40" y2="444.60" stroke="#231f20" stroke-width="0.9"/>
<line x1="116.50" y1="394.40" x2="116.50" y2="421.00" stroke="#3a3a3a" stroke-width="0.8"/>
<line x1="115.20" y1="394.40" x2="117.80" y2="394.40" stroke="#2a2a2a" stroke-width="0.9"/>
<line x1="115.20" y1="421.00" x2="117.80" y2="421.00" stroke="#2a2a2a" stroke-width="0.9"/>
<rect x="113.30" y="400.40" width="6.40" height="17.60" fill="#ea8a82" stroke="#cf6660" stroke-width="0.6"/>
<line x1="113.30" y1="405.30" x2="119.70" y2="405.30" stroke="#3a1f33" stroke-width="1.0"/>
<circle cx="116.50" cy="394.70" r="0.95" fill="#262626"/>
<circle cx="116.50" cy="420.70" r="0.95" fill="#262626"/>
<circle cx="117.00" cy="401.20" r="0.85" fill="#2e1e2a"/>
<circle cx="116.00" cy="402.85" r="0.85" fill="#2e1e2a"/>
<circle cx="117.00" cy="405.30" r="0.85" fill="#2e1e2a"/>
<circle cx="116.00" cy="412.65" r="0.85" fill="#2e1e2a"/>
<circle cx="117.00" cy="417.20" r="0.85" fill="#2e1e2a"/>
<line x1="116.50" y1="442.30" x2="116.50" y2="444.60" stroke="#231f20" stroke-width="0.9"/>
<line x1="133.30" y1="380.50" x2="133.30" y2="413.50" stroke="#3a3a3a" stroke-width="0.8"/>
<line x1="132.00" y1="380.50" x2="134.60" y2="380.50" stroke="#2a2a2a" stroke-width="0.9"/>
<line x1="132.00" y1="413.50" x2="134.60" y2="413.50" stroke="#2a2a2a" stroke-width="0.9"/>
<rect x="130.10" y="389.20" width="6.40" height="12.40" fill="#7d8fc6" stroke="#5569a5" stroke-width="0.6"/>
<line x1="130.10" y1="394.60" x2="136.50" y2="394.60" stroke="#3a1f33" stroke-width="1.0"/>
<circle cx="133.30" cy="380.80" r="0.95" fill="#262626"/>
<circle cx="133.30" cy="413.20" r="0.95" fill="#262626"/>
<circle cx="132.80" cy="390.00" r="0.85" fill="#2e1e2a"/>
<circle cx="133.80" cy="391.90" r="0.85" fill="#2e1e2a"/>
<circle cx="132.80" cy="394.60" r="0.85" fill="#2e1e2a"/>
<circle cx="133.80" cy="399.10" r="0.85" fill="#2e1e2a"/>
<circle cx="132.80" cy="400.80" r="0.85" fill="#2e1e2a"/>
<line x1="133.30" y1="442.30" x2="133.30" y2="444.60" stroke="#231f20" stroke-width="0.9"/>
<line x1="143.30" y1="377.70" x2="143.30" y2="412.30" stroke="#3a3a3a" stroke-width="0.8"/>
<line x1="142.00" y1="377.70" x2="144.60" y2="377.70" stroke="#2a2a2a" stroke-width="0.9"/>
<line x1="142.00" y1="412.30" x2="144.60" y2="412.30" stroke="#2a2a2a" stroke-width="0.9"/>
<rect x="140.10" y="397.20" width="6.40" height="12.50" fill="#7d8fc6" stroke="#5569a5" stroke-width="0.6"/>
<line x1="140.10" y1="408.70" x2="146.50" y2="408.70" stroke="#3a1f33" stroke-width="1.0"/>
<circle cx="143.30" cy="378.00" r="0.95" fill="#262626"/>
<circle cx="143.30" cy="412.00" r="0.95" fill="#262626"/>
<circle cx="142.80" cy="398.00" r="0.85" fill="#2e1e2a"/>
<circle cx="142.80" cy="402.95" r="0.85" fill="#2e1e2a"/>
<circle cx="142.80" cy="408.70" r="0.85" fill="#2e1e2a"/>
<circle cx="142.80" cy="410.20" r="0.85" fill="#2e1e2a"/>
<circle cx="142.80" cy="408.90" r="0.85" fill="#2e1e2a"/>
<line x1="143.30" y1="442.30" x2="143.30" y2="444.60" stroke="#231f20" stroke-width="0.9"/>
<line x1="153.20" y1="392.60" x2="153.20" y2="410.70" stroke="#3a3a3a" stroke-width="0.8"/>
<line x1="151.90" y1="392.60" x2="154.50" y2="392.60" stroke="#2a2a2a" stroke-width="0.9"/>
<line x1="151.90" y1="410.70" x2="154.50" y2="410.70" stroke="#2a2a2a" stroke-width="0.9"/>
<rect x="150.00" y="402.70" width="6.40" height="6.80" fill="#7d8fc6" stroke="#5569a5" stroke-width="0.6"/>
<line x1="150.00" y1="408.70" x2="156.40" y2="408.70" stroke="#3a1f33" stroke-width="1.0"/>
<circle cx="153.20" cy="392.90" r="0.95" fill="#262626"/>
<circle cx="153.20" cy="410.40" r="0.95" fill="#262626"/>
<circle cx="153.70" cy="403.50" r="0.85" fill="#2e1e2a"/>
<circle cx="153.70" cy="405.70" r="0.85" fill="#2e1e2a"/>
<circle cx="152.70" cy="408.70" r="0.85" fill="#2e1e2a"/>
<circle cx="152.70" cy="410.10" r="0.85" fill="#2e1e2a"/>
<circle cx="152.70" cy="408.70" r="0.85" fill="#2e1e2a"/>
<line x1="153.20" y1="442.30" x2="153.20" y2="444.60" stroke="#231f20" stroke-width="0.9"/>
<line x1="163.30" y1="403.50" x2="163.30" y2="421.40" stroke="#3a3a3a" stroke-width="0.8"/>
<line x1="162.00" y1="403.50" x2="164.60" y2="403.50" stroke="#2a2a2a" stroke-width="0.9"/>
<line x1="162.00" y1="421.40" x2="164.60" y2="421.40" stroke="#2a2a2a" stroke-width="0.9"/>
<rect x="160.10" y="409.10" width="6.40" height="12.10" fill="#7d8fc6" stroke="#5569a5" stroke-width="0.6"/>
<line x1="160.10" y1="417.00" x2="166.50" y2="417.00" stroke="#3a1f33" stroke-width="1.0"/>
<circle cx="163.30" cy="403.80" r="0.95" fill="#262626"/>
<circle cx="163.30" cy="421.10" r="0.95" fill="#262626"/>
<circle cx="163.80" cy="409.90" r="0.85" fill="#2e1e2a"/>
<circle cx="163.80" cy="413.05" r="0.85" fill="#2e1e2a"/>
<circle cx="163.80" cy="417.00" r="0.85" fill="#2e1e2a"/>
<circle cx="162.80" cy="420.10" r="0.85" fill="#2e1e2a"/>
<circle cx="162.80" cy="420.40" r="0.85" fill="#2e1e2a"/>
<line x1="163.30" y1="442.30" x2="163.30" y2="444.60" stroke="#231f20" stroke-width="0.9"/>
<line x1="173.30" y1="397.20" x2="173.30" y2="415.00" stroke="#3a3a3a" stroke-width="0.8"/>
<line x1="172.00" y1="397.20" x2="174.60" y2="397.20" stroke="#2a2a2a" stroke-width="0.9"/>
<line x1="172.00" y1="415.00" x2="174.60" y2="415.00" stroke="#2a2a2a" stroke-width="0.9"/>
<rect x="170.10" y="402.70" width="6.40" height="12.00" fill="#7d8fc6" stroke="#5569a5" stroke-width="0.6"/>
<line x1="170.10" y1="409.10" x2="176.50" y2="409.10" stroke="#3a1f33" stroke-width="1.0"/>
<circle cx="173.30" cy="397.50" r="0.95" fill="#262626"/>
<circle cx="173.30" cy="414.70" r="0.95" fill="#262626"/>
<circle cx="173.80" cy="403.50" r="0.85" fill="#2e1e2a"/>
<circle cx="173.80" cy="405.90" r="0.85" fill="#2e1e2a"/>
<circle cx="173.80" cy="409.10" r="0.85" fill="#2e1e2a"/>
<circle cx="172.80" cy="412.90" r="0.85" fill="#2e1e2a"/>
<circle cx="173.80" cy="413.90" r="0.85" fill="#2e1e2a"/>
<line x1="173.30" y1="442.30" x2="173.30" y2="444.60" stroke="#231f20" stroke-width="0.9"/>
<line x1="183.40" y1="395.80" x2="183.40" y2="424.00" stroke="#3a3a3a" stroke-width="0.8"/>
<line x1="182.10" y1="395.80" x2="184.70" y2="395.80" stroke="#2a2a2a" stroke-width="0.9"/>
<line x1="182.10" y1="424.00" x2="184.70" y2="424.00" stroke="#2a2a2a" stroke-width="0.9"/>
<rect x="180.20" y="405.30" width="6.40" height="14.50" fill="#7d8fc6" stroke="#5569a5" stroke-width="0.6"/>
<line x1="180.20" y1="413.70" x2="186.60" y2="413.70" stroke="#3a1f33" stroke-width="1.0"/>
<circle cx="183.40" cy="396.10" r="0.95" fill="#262626"/>
<circle cx="183.40" cy="423.70" r="0.95" fill="#262626"/>
<circle cx="182.90" cy="406.10" r="0.85" fill="#2e1e2a"/>
<circle cx="183.90" cy="409.50" r="0.85" fill="#2e1e2a"/>
<circle cx="183.90" cy="413.70" r="0.85" fill="#2e1e2a"/>
<circle cx="183.90" cy="417.75" r="0.85" fill="#2e1e2a"/>
<circle cx="183.90" cy="419.00" r="0.85" fill="#2e1e2a"/>
<line x1="183.40" y1="442.30" x2="183.40" y2="444.60" stroke="#231f20" stroke-width="0.9"/>
<circle cx="86.70" cy="380.50" r="0.85" fill="#231f20"/>
<circle cx="95.00" cy="380.50" r="0.85" fill="#231f20"/>
<circle cx="97.60" cy="380.50" r="0.85" fill="#231f20"/>
<circle cx="103.80" cy="380.50" r="0.85" fill="#231f20"/>
<circle cx="106.40" cy="380.50" r="0.85" fill="#231f20"/>
<circle cx="109.00" cy="380.50" r="0.85" fill="#231f20"/>
<circle cx="115.20" cy="380.50" r="0.85" fill="#231f20"/>
<circle cx="117.80" cy="380.50" r="0.85" fill="#231f20"/>
<circle cx="153.20" cy="380.50" r="0.85" fill="#231f20"/>
<circle cx="160.70" cy="380.50" r="0.85" fill="#231f20"/>
<circle cx="163.30" cy="380.50" r="0.85" fill="#231f20"/>
<circle cx="165.90" cy="380.50" r="0.85" fill="#231f20"/>
<circle cx="172.00" cy="380.50" r="0.85" fill="#231f20"/>
<circle cx="174.60" cy="380.50" r="0.85" fill="#231f20"/>
<circle cx="180.80" cy="380.50" r="0.85" fill="#231f20"/>
<circle cx="183.40" cy="380.50" r="0.85" fill="#231f20"/>
<circle cx="186.00" cy="380.50" r="0.85" fill="#231f20"/>
<text x="51.00" y="454.40" font-size="7.7" text-anchor="end" textLength="23.00" lengthAdjust="spacingAndGlyphs" transform="rotate(-45 51.00 454.40)" stroke="#231f20" stroke-width="0.15">DMSO</text>
<text x="66.00" y="454.40" font-size="7.7" text-anchor="end" textLength="10.70" lengthAdjust="spacingAndGlyphs" transform="rotate(-45 66.00 454.40)" stroke="#231f20" stroke-width="0.15">1.2</text>
<text x="76.20" y="454.40" font-size="7.7" text-anchor="end" textLength="10.70" lengthAdjust="spacingAndGlyphs" transform="rotate(-45 76.20 454.40)" stroke="#231f20" stroke-width="0.15">3.7</text>
<text x="87.10" y="454.40" font-size="7.7" text-anchor="end" textLength="14.90" lengthAdjust="spacingAndGlyphs" transform="rotate(-45 87.10 454.40)" stroke="#231f20" stroke-width="0.15">11.1</text>
<text x="98.20" y="454.40" font-size="7.7" text-anchor="end" textLength="14.90" lengthAdjust="spacingAndGlyphs" transform="rotate(-45 98.20 454.40)" stroke="#231f20" stroke-width="0.15">33.3</text>
<text x="108.30" y="454.40" font-size="7.7" text-anchor="end" textLength="12.80" lengthAdjust="spacingAndGlyphs" transform="rotate(-45 108.30 454.40)" stroke="#231f20" stroke-width="0.15">100</text>
<text x="118.90" y="454.40" font-size="7.7" text-anchor="end" textLength="12.80" lengthAdjust="spacingAndGlyphs" transform="rotate(-45 118.90 454.40)" stroke="#231f20" stroke-width="0.15">300</text>
<text x="134.30" y="454.40" font-size="7.7" text-anchor="end" textLength="10.70" lengthAdjust="spacingAndGlyphs" transform="rotate(-45 134.30 454.40)" stroke="#231f20" stroke-width="0.15">1.2</text>
<text x="144.50" y="454.40" font-size="7.7" text-anchor="end" textLength="10.70" lengthAdjust="spacingAndGlyphs" transform="rotate(-45 144.50 454.40)" stroke="#231f20" stroke-width="0.15">3.7</text>
<text x="155.10" y="454.40" font-size="7.7" text-anchor="end" textLength="14.90" lengthAdjust="spacingAndGlyphs" transform="rotate(-45 155.10 454.40)" stroke="#231f20" stroke-width="0.15">11.1</text>
<text x="166.60" y="454.40" font-size="7.7" text-anchor="end" textLength="14.90" lengthAdjust="spacingAndGlyphs" transform="rotate(-45 166.60 454.40)" stroke="#231f20" stroke-width="0.15">33.3</text>
<text x="176.40" y="454.40" font-size="7.7" text-anchor="end" textLength="12.80" lengthAdjust="spacingAndGlyphs" transform="rotate(-45 176.40 454.40)" stroke="#231f20" stroke-width="0.15">100</text>
<text x="186.40" y="454.40" font-size="7.7" text-anchor="end" textLength="12.80" lengthAdjust="spacingAndGlyphs" transform="rotate(-45 186.40 454.40)" stroke="#231f20" stroke-width="0.15">300</text>
<line x1="59.20" y1="468.90" x2="111.90" y2="468.90" stroke="#231f20" stroke-width="1.0"/>
<line x1="132.70" y1="469.20" x2="186.00" y2="469.20" stroke="#231f20" stroke-width="1.0"/>
<text x="72.70" y="481.40" font-size="8.8" textLength="25.40" lengthAdjust="spacingAndGlyphs" stroke="#231f20" stroke-width="0.35">Pirto nM</text>
<text x="149.40" y="480.80" font-size="8.8" textLength="19.30" lengthAdjust="spacingAndGlyphs" stroke="#231f20" stroke-width="0.35">Ibr nM</text>
<text x="230.40" y="10.50" font-size="11.8" textLength="8.20" lengthAdjust="spacingAndGlyphs" font-weight="bold">D</text>
<rect x="326.60" y="25.50" width="13.10" height="110.80" fill="#d9d9d9"/>
<rect x="323.70" y="35.80" width="26.5" height="5.8" fill="#ffffff" fill-opacity="0.7"/>
<text x="323.20" y="40.80" font-size="6.2" textLength="27.20" lengthAdjust="spacingAndGlyphs" fill="#2a2a2a" stroke="#2a2a2a" stroke-width="0.15">Undivided</text>
<line x1="325.70" y1="46.70" x2="339.90" y2="46.70" stroke="#333" stroke-width="0.8"/>
<line x1="325.70" y1="45.20" x2="325.70" y2="48.20" stroke="#333" stroke-width="0.8"/>
<line x1="339.90" y1="45.20" x2="339.90" y2="48.20" stroke="#333" stroke-width="0.8"/>
<rect x="255.60" y="25.50" width="111.20" height="110.80" fill="none" stroke="#231f20" stroke-width="1.15"/>
<path d="M288.00,135.84 L288.35,135.81 L288.70,135.79 L289.05,135.76 L289.41,135.72 L289.76,135.69 L290.11,135.65 L290.46,135.61 L290.81,135.56 L291.16,135.51 L291.52,135.46 L291.87,135.40 L292.22,135.34 L292.57,135.27 L292.92,135.20 L293.27,135.13 L293.63,135.06 L293.98,134.98 L294.33,134.90 L294.68,134.81 L295.03,134.73 L295.38,134.64 L295.74,134.55 L296.09,134.46 L296.44,134.37 L296.79,134.28 L297.14,134.19 L297.49,134.11 L297.85,134.03 L298.20,133.94 L298.55,133.87 L298.90,133.80 L299.25,133.73 L299.60,133.67 L299.96,133.61 L300.31,133.56 L300.66,133.51 L301.01,133.47 L301.36,133.43 L301.71,133.40 L302.07,133.38 L302.42,133.35 L302.77,133.34 L303.12,133.32 L303.47,133.31 L303.82,133.29 L304.18,133.28 L304.53,133.26 L304.88,133.23 L305.23,133.21 L305.58,133.17 L305.93,133.13 L306.29,133.07 L306.64,133.00 L306.99,132.92 L307.34,132.82 L307.69,132.70 L308.04,132.55 L308.40,132.39 L308.75,132.18 L309.10,131.95 L309.45,131.66 L309.80,131.31 L310.15,130.89 L310.51,130.39 L310.86,129.78 L311.21,129.06 L311.56,128.23 L311.91,127.29 L312.26,126.25 L312.62,125.16 L312.97,124.04 L313.32,122.96 L313.67,121.99 L314.02,121.17 L314.37,120.57 L314.73,120.23 L315.08,120.16 L315.43,120.36 L315.78,120.81 L316.13,121.45 L316.48,122.24 L316.84,123.11 L317.19,124.00 L317.54,124.85 L317.89,125.59 L318.24,126.17 L318.59,126.50 L318.95,126.48 L319.30,125.94 L319.65,124.69 L320.00,122.48 L320.35,119.06 L320.70,114.19 L321.05,107.72 L321.41,99.69 L321.76,90.34 L322.11,80.22 L322.46,70.10 L322.81,60.95 L323.16,53.74 L323.52,49.32 L323.87,48.23 L324.22,50.58 L324.57,56.06 L324.92,63.95 L325.27,73.32 L325.63,83.17 L325.98,92.58 L326.33,100.87 L326.68,107.65 L327.03,112.79 L327.38,116.37 L327.74,118.65 L328.09,119.90 L328.44,120.43 L328.79,120.48 L329.14,120.22 L329.49,119.77 L329.85,119.19 L330.20,118.50 L330.55,117.74 L330.90,116.96 L331.25,116.23 L331.60,115.64 L331.96,115.30 L332.31,115.30 L332.66,115.72 L333.01,116.56 L333.36,117.78 L333.71,119.30 L334.07,121.00 L334.42,122.75 L334.77,124.44 L335.12,125.97 L335.47,127.30 L335.82,128.40 L336.18,129.30 L336.53,130.01 L336.88,130.59 L337.23,131.06 L337.58,131.46 L337.93,131.81 L338.29,132.14 L338.64,132.45 L338.99,132.74 L339.34,133.03 L339.69,133.30 L340.04,133.56 L340.40,133.81 L340.75,134.05 L341.10,134.27 L341.45,134.48 L341.80,134.67 L342.15,134.84 L342.51,134.99 L342.86,135.14 L343.21,135.26 L343.56,135.37 L343.91,135.47 L344.26,135.55 L344.62,135.63 L344.97,135.69 L345.32,135.75 L345.67,135.79 L346.02,135.83 L346.37,135.86 L346.73,135.89 L347.08,135.91 L347.43,135.93 L347.78,135.94 L348.13,135.96 L348.48,135.97 L348.84,135.97 L349.19,135.98 L349.54,135.98 L349.89,135.99 L350.24,135.99 L350.59,135.99 L350.95,135.99 L351.30,136.00 L351.65,136.00 L352.00,136.00" stroke="#c9284a" stroke-width="1.3" fill="none" stroke-linejoin="round"/>
<path d="M288.00,135.87 L288.35,135.85 L288.70,135.83 L289.05,135.80 L289.41,135.78 L289.76,135.75 L290.11,135.72 L290.46,135.69 L290.81,135.65 L291.16,135.61 L291.52,135.57 L291.87,135.52 L292.22,135.47 L292.57,135.42 L292.92,135.36 L293.27,135.31 L293.63,135.24 L293.98,135.18 L294.33,135.12 L294.68,135.05 L295.03,134.98 L295.38,134.91 L295.74,134.84 L296.09,134.77 L296.44,134.70 L296.79,134.63 L297.14,134.56 L297.49,134.49 L297.85,134.42 L298.20,134.36 L298.55,134.29 L298.90,134.24 L299.25,134.18 L299.60,134.13 L299.96,134.09 L300.31,134.04 L300.66,134.01 L301.01,133.97 L301.36,133.94 L301.71,133.92 L302.07,133.90 L302.42,133.88 L302.77,133.87 L303.12,133.85 L303.47,133.84 L303.82,133.83 L304.18,133.82 L304.53,133.80 L304.88,133.78 L305.23,133.76 L305.58,133.73 L305.93,133.69 L306.29,133.64 L306.64,133.59 L306.99,133.52 L307.34,133.44 L307.69,133.34 L308.04,133.23 L308.40,133.10 L308.75,132.95 L309.10,132.78 L309.45,132.59 L309.80,132.36 L310.15,132.10 L310.51,131.80 L310.86,131.46 L311.21,131.07 L311.56,130.64 L311.91,130.16 L312.26,129.65 L312.62,129.12 L312.97,128.59 L313.32,128.07 L313.67,127.60 L314.02,127.20 L314.37,126.89 L314.73,126.69 L315.08,126.60 L315.43,126.63 L315.78,126.76 L316.13,126.98 L316.48,127.28 L316.84,127.61 L317.19,127.96 L317.54,128.29 L317.89,128.57 L318.24,128.74 L318.59,128.72 L318.95,128.40 L319.30,127.63 L319.65,126.19 L320.00,123.83 L320.35,120.29 L320.70,115.31 L321.05,108.75 L321.41,100.64 L321.76,91.22 L322.11,81.02 L322.46,70.84 L322.81,61.62 L323.16,54.36 L323.52,49.88 L323.87,48.74 L324.22,51.04 L324.57,56.46 L324.92,64.31 L325.27,73.64 L325.63,83.45 L325.98,92.83 L326.33,101.09 L326.68,107.83 L327.03,112.94 L327.38,116.50 L327.74,118.74 L328.09,119.98 L328.44,120.51 L328.79,120.59 L329.14,120.41 L329.49,120.11 L329.85,119.78 L330.20,119.46 L330.55,119.20 L330.90,119.04 L331.25,119.02 L331.60,119.18 L331.96,119.55 L332.31,120.15 L332.66,120.97 L333.01,121.97 L333.36,123.10 L333.71,124.28 L334.07,125.45 L334.42,126.54 L334.77,127.52 L335.12,128.37 L335.47,129.08 L335.82,129.67 L336.18,130.16 L336.53,130.57 L336.88,130.93 L337.23,131.27 L337.58,131.58 L337.93,131.88 L338.29,132.17 L338.64,132.47 L338.99,132.75 L339.34,133.03 L339.69,133.30 L340.04,133.57 L340.40,133.81 L340.75,134.05 L341.10,134.27 L341.45,134.48 L341.80,134.67 L342.15,134.84 L342.51,134.99 L342.86,135.14 L343.21,135.26 L343.56,135.37 L343.91,135.47 L344.26,135.55 L344.62,135.63 L344.97,135.69 L345.32,135.75 L345.67,135.79 L346.02,135.83 L346.37,135.86 L346.73,135.89 L347.08,135.91 L347.43,135.93 L347.78,135.94 L348.13,135.96 L348.48,135.97 L348.84,135.97 L349.19,135.98 L349.54,135.98 L349.89,135.99 L350.24,135.99 L350.59,135.99 L350.95,135.99 L351.30,136.00 L351.65,136.00 L352.00,136.00" stroke="#3a649d" stroke-width="1.3" fill="none" stroke-linejoin="round"/>
<path d="M288.00,135.84 L288.35,135.81 L288.70,135.79 L289.05,135.76 L289.41,135.72 L289.76,135.69 L290.11,135.65 L290.46,135.61 L290.81,135.56 L291.16,135.51 L291.52,135.46 L291.87,135.40 L292.22,135.34 L292.57,135.27 L292.92,135.20 L293.27,135.13 L293.63,135.06 L293.98,134.98 L294.33,134.90 L294.68,134.81 L295.03,134.73 L295.38,134.64 L295.74,134.55 L296.09,134.46 L296.44,134.37 L296.79,134.28 L297.14,134.19 L297.49,134.11 L297.85,134.03 L298.20,133.95 L298.55,133.87 L298.90,133.80 L299.25,133.73 L299.60,133.67 L299.96,133.61 L300.31,133.56 L300.66,133.52 L301.01,133.48 L301.36,133.44 L301.71,133.41 L302.07,133.39 L302.42,133.37 L302.77,133.36 L303.12,133.35 L303.47,133.34 L303.82,133.33 L304.18,133.32 L304.53,133.31 L304.88,133.30 L305.23,133.29 L305.58,133.26 L305.93,133.23 L306.29,133.19 L306.64,133.14 L306.99,133.08 L307.34,133.01 L307.69,132.91 L308.04,132.80 L308.40,132.67 L308.75,132.51 L309.10,132.32 L309.45,132.09 L309.80,131.81 L310.15,131.46 L310.51,131.04 L310.86,130.51 L311.21,129.87 L311.56,129.09 L311.91,128.18 L312.26,127.13 L312.62,125.96 L312.97,124.71 L313.32,123.44 L313.67,122.19 L314.02,121.07 L314.37,120.12 L314.73,119.44 L315.08,119.06 L315.43,119.02 L315.78,119.30 L316.13,119.89 L316.48,120.72 L316.84,121.73 L317.19,122.84 L317.54,123.97 L317.89,125.04 L318.24,125.98 L318.59,126.67 L318.95,127.00 L319.30,126.77 L319.65,125.68 L320.00,123.38 L320.35,119.41 L320.70,113.34 L321.05,104.89 L321.41,94.05 L321.76,81.27 L322.11,67.54 L322.46,54.29 L322.81,43.22 L323.16,35.93 L323.52,33.54 L323.87,36.44 L324.22,44.13 L324.57,55.40 L324.92,68.60 L325.27,82.03 L325.63,94.28 L325.98,104.42 L326.33,112.07 L326.68,117.30 L327.03,120.47 L327.38,122.08 L327.74,122.62 L328.09,122.52 L328.44,122.07 L328.79,121.50 L329.14,120.91 L329.49,120.37 L329.85,119.90 L330.20,119.51 L330.55,119.22 L330.90,119.04 L331.25,119.02 L331.60,119.17 L331.96,119.55 L332.31,120.15 L332.66,120.97 L333.01,121.97 L333.36,123.10 L333.71,124.28 L334.07,125.45 L334.42,126.54 L334.77,127.52 L335.12,128.37 L335.47,129.08 L335.82,129.67 L336.18,130.16 L336.53,130.57 L336.88,130.93 L337.23,131.26 L337.58,131.58 L337.93,131.88 L338.29,132.17 L338.64,132.47 L338.99,132.75 L339.34,133.03 L339.69,133.30 L340.04,133.57 L340.40,133.81 L340.75,134.05 L341.10,134.27 L341.45,134.48 L341.80,134.67 L342.15,134.84 L342.51,134.99 L342.86,135.14 L343.21,135.26 L343.56,135.37 L343.91,135.47 L344.26,135.55 L344.62,135.63 L344.97,135.69 L345.32,135.75 L345.67,135.79 L346.02,135.83 L346.37,135.86 L346.73,135.89 L347.08,135.91 L347.43,135.93 L347.78,135.94 L348.13,135.96 L348.48,135.97 L348.84,135.97 L349.19,135.98 L349.54,135.98 L349.89,135.99 L350.24,135.99 L350.59,135.99 L350.95,135.99 L351.30,136.00 L351.65,136.00 L352.00,136.00" stroke="#48a648" stroke-width="1.3" fill="none" stroke-linejoin="round"/>
<path d="M288.00,135.77 L288.35,135.74 L288.70,135.70 L289.05,135.66 L289.41,135.61 L289.76,135.56 L290.11,135.51 L290.46,135.45 L290.81,135.38 L291.16,135.31 L291.52,135.24 L291.87,135.16 L292.22,135.07 L292.57,134.98 L292.92,134.88 L293.27,134.78 L293.63,134.67 L293.98,134.56 L294.33,134.45 L294.68,134.33 L295.03,134.21 L295.38,134.08 L295.74,133.95 L296.09,133.82 L296.44,133.69 L296.79,133.56 L297.14,133.43 L297.49,133.30 L297.85,133.17 L298.20,133.04 L298.55,132.92 L298.90,132.79 L299.25,132.67 L299.60,132.55 L299.96,132.43 L300.31,132.31 L300.66,132.19 L301.01,132.07 L301.36,131.95 L301.71,131.82 L302.07,131.69 L302.42,131.55 L302.77,131.41 L303.12,131.25 L303.47,131.08 L303.82,130.89 L304.18,130.69 L304.53,130.47 L304.88,130.23 L305.23,129.96 L305.58,129.68 L305.93,129.36 L306.29,129.02 L306.64,128.66 L306.99,128.26 L307.34,127.84 L307.69,127.38 L308.04,126.87 L308.40,126.31 L308.75,125.68 L309.10,124.94 L309.45,124.07 L309.80,123.02 L310.15,121.74 L310.51,120.19 L310.86,118.30 L311.21,116.05 L311.56,113.45 L311.91,110.52 L312.26,107.35 L312.62,104.07 L312.97,100.85 L313.32,97.91 L313.67,95.46 L314.02,93.69 L314.37,92.76 L314.73,92.74 L315.08,93.65 L315.43,95.39 L315.78,97.80 L316.13,100.66 L316.48,103.73 L316.84,106.76 L317.19,109.54 L317.54,111.90 L317.89,113.71 L318.24,114.90 L318.59,115.43 L318.95,115.29 L319.30,114.43 L319.65,112.78 L320.00,110.23 L320.35,106.65 L320.70,101.89 L321.05,95.91 L321.41,88.75 L321.76,80.66 L322.11,72.09 L322.46,63.69 L322.81,56.24 L323.16,50.51 L323.52,47.19 L323.87,46.72 L324.22,49.20 L324.57,54.39 L324.92,61.74 L325.27,70.50 L325.63,79.83 L325.98,88.93 L326.33,97.18 L326.68,104.14 L327.03,109.63 L327.38,113.65 L327.74,116.36 L328.09,117.98 L328.44,118.78 L328.79,119.01 L329.14,118.87 L329.49,118.53 L329.85,118.13 L330.20,117.76 L330.55,117.51 L330.90,117.43 L331.25,117.57 L331.60,117.97 L331.96,118.64 L332.31,119.54 L332.66,120.62 L333.01,121.83 L333.36,123.07 L333.71,124.29 L334.07,125.41 L334.42,126.41 L334.77,127.26 L335.12,127.96 L335.47,128.55 L335.82,129.04 L336.18,129.47 L336.53,129.85 L336.88,130.20 L337.23,130.54 L337.58,130.87 L337.93,131.21 L338.29,131.55 L338.64,131.88 L338.99,132.21 L339.34,132.54 L339.69,132.85 L340.04,133.16 L340.40,133.45 L340.75,133.73 L341.10,133.98 L341.45,134.22 L341.80,134.44 L342.15,134.64 L342.51,134.83 L342.86,134.99 L343.21,135.14 L343.56,135.27 L343.91,135.38 L344.26,135.48 L344.62,135.57 L344.97,135.64 L345.32,135.70 L345.67,135.76 L346.02,135.80 L346.37,135.84 L346.73,135.87 L347.08,135.90 L347.43,135.92 L347.78,135.94 L348.13,135.95 L348.48,135.96 L348.84,135.97 L349.19,135.98 L349.54,135.98 L349.89,135.99 L350.24,135.99 L350.59,135.99 L350.95,135.99 L351.30,136.00 L351.65,136.00 L352.00,136.00" stroke="#62297a" stroke-width="1.3" fill="none" stroke-linejoin="round"/>
<line x1="253.00" y1="136.20" x2="255.60" y2="136.20" stroke="#231f20" stroke-width="1"/>
<text x="249.50" y="139.10" font-size="8.4" text-anchor="end">0</text>
<line x1="253.00" y1="115.90" x2="255.60" y2="115.90" stroke="#231f20" stroke-width="1"/>
<text x="249.50" y="118.80" font-size="8.4" text-anchor="end">100</text>
<line x1="253.00" y1="95.60" x2="255.60" y2="95.60" stroke="#231f20" stroke-width="1"/>
<text x="249.50" y="98.50" font-size="8.4" text-anchor="end">200</text>
<line x1="253.00" y1="75.30" x2="255.60" y2="75.30" stroke="#231f20" stroke-width="1"/>
<text x="249.50" y="78.20" font-size="8.4" text-anchor="end">300</text>
<line x1="253.00" y1="55.00" x2="255.60" y2="55.00" stroke="#231f20" stroke-width="1"/>
<text x="249.50" y="57.90" font-size="8.4" text-anchor="end">400</text>
<line x1="253.00" y1="34.70" x2="255.60" y2="34.70" stroke="#231f20" stroke-width="1"/>
<text x="249.50" y="37.60" font-size="8.4" text-anchor="end">500</text>
<line x1="254.30" y1="136.20" x2="255.60" y2="136.20" stroke="#231f20" stroke-width="0.6"/>
<line x1="254.30" y1="132.14" x2="255.60" y2="132.14" stroke="#231f20" stroke-width="0.6"/>
<line x1="254.30" y1="128.08" x2="255.60" y2="128.08" stroke="#231f20" stroke-width="0.6"/>
<line x1="254.30" y1="124.02" x2="255.60" y2="124.02" stroke="#231f20" stroke-width="0.6"/>
<line x1="254.30" y1="119.96" x2="255.60" y2="119.96" stroke="#231f20" stroke-width="0.6"/>
<line x1="254.30" y1="115.90" x2="255.60" y2="115.90" stroke="#231f20" stroke-width="0.6"/>
<line x1="254.30" y1="111.84" x2="255.60" y2="111.84" stroke="#231f20" stroke-width="0.6"/>
<line x1="254.30" y1="107.78" x2="255.60" y2="107.78" stroke="#231f20" stroke-width="0.6"/>
<line x1="254.30" y1="103.72" x2="255.60" y2="103.72" stroke="#231f20" stroke-width="0.6"/>
<line x1="254.30" y1="99.66" x2="255.60" y2="99.66" stroke="#231f20" stroke-width="0.6"/>
<line x1="254.30" y1="95.60" x2="255.60" y2="95.60" stroke="#231f20" stroke-width="0.6"/>
<line x1="254.30" y1="91.54" x2="255.60" y2="91.54" stroke="#231f20" stroke-width="0.6"/>
<line x1="254.30" y1="87.48" x2="255.60" y2="87.48" stroke="#231f20" stroke-width="0.6"/>
<line x1="254.30" y1="83.42" x2="255.60" y2="83.42" stroke="#231f20" stroke-width="0.6"/>
<line x1="254.30" y1="79.36" x2="255.60" y2="79.36" stroke="#231f20" stroke-width="0.6"/>
<line x1="254.30" y1="75.30" x2="255.60" y2="75.30" stroke="#231f20" stroke-width="0.6"/>
<line x1="254.30" y1="71.24" x2="255.60" y2="71.24" stroke="#231f20" stroke-width="0.6"/>
<line x1="254.30" y1="67.18" x2="255.60" y2="67.18" stroke="#231f20" stroke-width="0.6"/>
<line x1="254.30" y1="63.12" x2="255.60" y2="63.12" stroke="#231f20" stroke-width="0.6"/>
<line x1="254.30" y1="59.06" x2="255.60" y2="59.06" stroke="#231f20" stroke-width="0.6"/>
<line x1="254.30" y1="55.00" x2="255.60" y2="55.00" stroke="#231f20" stroke-width="0.6"/>
<line x1="254.30" y1="50.94" x2="255.60" y2="50.94" stroke="#231f20" stroke-width="0.6"/>
<line x1="254.30" y1="46.88" x2="255.60" y2="46.88" stroke="#231f20" stroke-width="0.6"/>
<line x1="254.30" y1="42.82" x2="255.60" y2="42.82" stroke="#231f20" stroke-width="0.6"/>
<line x1="254.30" y1="38.76" x2="255.60" y2="38.76" stroke="#231f20" stroke-width="0.6"/>
<line x1="254.30" y1="34.70" x2="255.60" y2="34.70" stroke="#231f20" stroke-width="0.6"/>
<line x1="254.30" y1="30.64" x2="255.60" y2="30.64" stroke="#231f20" stroke-width="0.6"/>
<line x1="254.30" y1="26.58" x2="255.60" y2="26.58" stroke="#231f20" stroke-width="0.6"/>
<line x1="263.00" y1="136.30" x2="263.00" y2="138.70" stroke="#231f20" stroke-width="1"/>
<text x="262.70" y="153.80" font-size="7.0" text-anchor="middle" fill="#231f20">&#8722;10<tspan font-size="4.76" dy="-2.6">3</tspan></text>
<text x="282.90" y="153.80" font-size="7.0" text-anchor="middle">0</text>
<line x1="298.80" y1="136.30" x2="298.80" y2="138.70" stroke="#231f20" stroke-width="1"/>
<text x="299.30" y="153.80" font-size="7.0" text-anchor="middle" fill="#231f20">10<tspan font-size="4.76" dy="-2.6">3</tspan></text>
<line x1="329.00" y1="136.30" x2="329.00" y2="138.70" stroke="#231f20" stroke-width="1"/>
<text x="330.10" y="153.80" font-size="7.0" text-anchor="middle" fill="#231f20">10<tspan font-size="4.76" dy="-2.6">4</tspan></text>
<line x1="355.00" y1="136.30" x2="355.00" y2="138.70" stroke="#231f20" stroke-width="1"/>
<text x="356.00" y="153.80" font-size="7.0" text-anchor="middle" fill="#231f20">10<tspan font-size="4.76" dy="-2.6">5</tspan></text>
<line x1="278.70" y1="136.30" x2="278.70" y2="138.50" stroke="#231f20" stroke-width="0.8"/>
<line x1="279.90" y1="136.30" x2="279.90" y2="138.50" stroke="#231f20" stroke-width="0.8"/>
<line x1="281.10" y1="136.30" x2="281.10" y2="138.50" stroke="#231f20" stroke-width="0.8"/>
<line x1="282.30" y1="136.30" x2="282.30" y2="138.50" stroke="#231f20" stroke-width="0.8"/>
<line x1="271.75" y1="136.30" x2="271.75" y2="137.90" stroke="#231f20" stroke-width="0.7"/>
<line x1="289.65" y1="136.30" x2="289.65" y2="137.90" stroke="#231f20" stroke-width="0.7"/>
<line x1="307.89" y1="136.30" x2="307.89" y2="137.60" stroke="#231f20" stroke-width="0.55"/>
<line x1="313.21" y1="136.30" x2="313.21" y2="137.60" stroke="#231f20" stroke-width="0.55"/>
<line x1="316.98" y1="136.30" x2="316.98" y2="137.60" stroke="#231f20" stroke-width="0.55"/>
<line x1="319.91" y1="136.30" x2="319.91" y2="137.60" stroke="#231f20" stroke-width="0.55"/>
<line x1="322.30" y1="136.30" x2="322.30" y2="137.60" stroke="#231f20" stroke-width="0.55"/>
<line x1="324.32" y1="136.30" x2="324.32" y2="137.60" stroke="#231f20" stroke-width="0.55"/>
<line x1="326.07" y1="136.30" x2="326.07" y2="137.60" stroke="#231f20" stroke-width="0.55"/>
<line x1="327.62" y1="136.30" x2="327.62" y2="137.60" stroke="#231f20" stroke-width="0.55"/>
<line x1="336.83" y1="136.30" x2="336.83" y2="137.60" stroke="#231f20" stroke-width="0.55"/>
<line x1="341.41" y1="136.30" x2="341.41" y2="137.60" stroke="#231f20" stroke-width="0.55"/>
<line x1="344.65" y1="136.30" x2="344.65" y2="137.60" stroke="#231f20" stroke-width="0.55"/>
<line x1="347.17" y1="136.30" x2="347.17" y2="137.60" stroke="#231f20" stroke-width="0.55"/>
<line x1="349.23" y1="136.30" x2="349.23" y2="137.60" stroke="#231f20" stroke-width="0.55"/>
<line x1="350.97" y1="136.30" x2="350.97" y2="137.60" stroke="#231f20" stroke-width="0.55"/>
<line x1="352.48" y1="136.30" x2="352.48" y2="137.60" stroke="#231f20" stroke-width="0.55"/>
<line x1="353.81" y1="136.30" x2="353.81" y2="137.60" stroke="#231f20" stroke-width="0.55"/>
<text x="310.00" y="20.40" font-size="9.4" text-anchor="middle" textLength="54.80" lengthAdjust="spacingAndGlyphs">BTK WT Pt 1</text>
<text x="261.90" y="35.80" font-size="7.6" textLength="28.20" lengthAdjust="spacingAndGlyphs" fill="#c9284a">Pirto 9%</text>
<text x="261.90" y="44.60" font-size="7.6" textLength="22.60" lengthAdjust="spacingAndGlyphs" fill="#3a649d">Ibr 6%</text>
<text x="261.90" y="54.00" font-size="7.6" textLength="30.50" lengthAdjust="spacingAndGlyphs" fill="#48a648">Acala 9%</text>
<text x="261.90" y="63.30" font-size="7.6" textLength="40.20" lengthAdjust="spacingAndGlyphs" fill="#62297a">DMSO 22%</text>
<rect x="471.70" y="25.50" width="10.60" height="113.30" fill="#d9d9d9"/>
<rect x="467.30" y="35.80" width="26.5" height="5.8" fill="#ffffff" fill-opacity="0.7"/>
<text x="466.80" y="40.80" font-size="6.2" textLength="27.20" lengthAdjust="spacingAndGlyphs" fill="#2a2a2a" stroke="#2a2a2a" stroke-width="0.15">Undivided</text>
<line x1="471.40" y1="47.30" x2="482.90" y2="47.30" stroke="#333" stroke-width="0.8"/>
<line x1="471.40" y1="45.80" x2="471.40" y2="48.80" stroke="#333" stroke-width="0.8"/>
<line x1="482.90" y1="45.80" x2="482.90" y2="48.80" stroke="#333" stroke-width="0.8"/>
<rect x="396.70" y="25.50" width="114.20" height="113.30" fill="none" stroke="#231f20" stroke-width="1.15"/>
<path d="M428.00,138.49 L428.35,138.49 L428.70,138.49 L429.05,138.49 L429.40,138.48 L429.75,138.48 L430.10,138.47 L430.46,138.46 L430.81,138.45 L431.16,138.44 L431.51,138.43 L431.86,138.41 L432.21,138.39 L432.56,138.37 L432.91,138.34 L433.26,138.31 L433.61,138.28 L433.96,138.24 L434.31,138.20 L434.66,138.15 L435.02,138.09 L435.37,138.03 L435.72,137.97 L436.07,137.90 L436.42,137.83 L436.77,137.74 L437.12,137.66 L437.47,137.56 L437.82,137.46 L438.17,137.36 L438.52,137.24 L438.87,137.12 L439.23,136.99 L439.58,136.85 L439.93,136.69 L440.28,136.53 L440.63,136.35 L440.98,136.16 L441.33,135.96 L441.68,135.74 L442.03,135.51 L442.38,135.27 L442.73,135.03 L443.08,134.77 L443.43,134.52 L443.79,134.26 L444.14,134.01 L444.49,133.77 L444.84,133.53 L445.19,133.29 L445.54,133.06 L445.89,132.82 L446.24,132.56 L446.59,132.25 L446.94,131.88 L447.29,131.41 L447.64,130.83 L447.99,130.10 L448.35,129.22 L448.70,128.17 L449.05,126.97 L449.40,125.64 L449.75,124.22 L450.10,122.76 L450.45,121.30 L450.80,119.90 L451.15,118.59 L451.50,117.37 L451.85,116.26 L452.20,115.20 L452.55,114.16 L452.91,113.08 L453.26,111.89 L453.61,110.53 L453.96,108.95 L454.31,107.11 L454.66,104.99 L455.01,102.55 L455.36,99.80 L455.71,96.73 L456.06,93.35 L456.41,89.67 L456.76,85.70 L457.12,81.51 L457.47,77.13 L457.82,72.66 L458.17,68.19 L458.52,63.85 L458.87,59.77 L459.22,56.08 L459.57,52.92 L459.92,50.40 L460.27,48.62 L460.62,47.60 L460.97,47.38 L461.32,47.89 L461.68,49.07 L462.03,50.81 L462.38,52.96 L462.73,55.37 L463.08,57.91 L463.43,60.42 L463.78,62.80 L464.13,64.95 L464.48,66.82 L464.83,68.37 L465.18,69.61 L465.53,70.56 L465.88,71.25 L466.24,71.75 L466.59,72.10 L466.94,72.37 L467.29,72.62 L467.64,72.88 L467.99,73.21 L468.34,73.63 L468.69,74.18 L469.04,74.86 L469.39,75.68 L469.74,76.66 L470.09,77.78 L470.45,79.04 L470.80,80.44 L471.15,81.95 L471.50,83.58 L471.85,85.31 L472.20,87.12 L472.55,89.00 L472.90,90.94 L473.25,92.92 L473.60,94.94 L473.95,96.97 L474.30,99.02 L474.65,101.07 L475.01,103.11 L475.36,105.13 L475.71,107.11 L476.06,109.07 L476.41,110.98 L476.76,112.84 L477.11,114.64 L477.46,116.38 L477.81,118.06 L478.16,119.67 L478.51,121.20 L478.86,122.66 L479.21,124.05 L479.57,125.35 L479.92,126.58 L480.27,127.73 L480.62,128.80 L480.97,129.80 L481.32,130.72 L481.67,131.57 L482.02,132.35 L482.37,133.06 L482.72,133.70 L483.07,134.29 L483.42,134.81 L483.77,135.29 L484.13,135.71 L484.48,136.09 L484.83,136.42 L485.18,136.71 L485.53,136.97 L485.88,137.20 L486.23,137.40 L486.58,137.57 L486.93,137.72 L487.28,137.84 L487.63,137.95 L487.98,138.04 L488.34,138.12 L488.69,138.19 L489.04,138.24 L489.39,138.29 L489.74,138.33 L490.09,138.36 L490.44,138.39 L490.79,138.41 L491.14,138.43 L491.49,138.44 L491.84,138.45 L492.19,138.46 L492.54,138.47 L492.90,138.48 L493.25,138.48 L493.60,138.49 L493.95,138.49 L494.30,138.49 L494.65,138.49 L495.00,138.50" stroke="#c9284a" stroke-width="1.3" fill="none" stroke-linejoin="round"/>
<path d="M428.00,138.49 L428.35,138.49 L428.70,138.49 L429.05,138.49 L429.40,138.48 L429.75,138.48 L430.10,138.47 L430.46,138.46 L430.81,138.45 L431.16,138.44 L431.51,138.43 L431.86,138.41 L432.21,138.39 L432.56,138.37 L432.91,138.34 L433.26,138.31 L433.61,138.28 L433.96,138.24 L434.31,138.20 L434.66,138.15 L435.02,138.09 L435.37,138.03 L435.72,137.97 L436.07,137.90 L436.42,137.83 L436.77,137.74 L437.12,137.66 L437.47,137.56 L437.82,137.46 L438.17,137.36 L438.52,137.24 L438.87,137.12 L439.23,136.99 L439.58,136.85 L439.93,136.69 L440.28,136.53 L440.63,136.35 L440.98,136.16 L441.33,135.96 L441.68,135.74 L442.03,135.51 L442.38,135.27 L442.73,135.03 L443.08,134.77 L443.43,134.52 L443.79,134.26 L444.14,134.01 L444.49,133.77 L444.84,133.53 L445.19,133.30 L445.54,133.08 L445.89,132.85 L446.24,132.60 L446.59,132.31 L446.94,131.97 L447.29,131.55 L447.64,131.02 L447.99,130.36 L448.35,129.56 L448.70,128.60 L449.05,127.50 L449.40,126.28 L449.75,124.96 L450.10,123.59 L450.45,122.22 L450.80,120.88 L451.15,119.59 L451.50,118.38 L451.85,117.24 L452.20,116.14 L452.55,115.03 L452.91,113.88 L453.26,112.62 L453.61,111.21 L453.96,109.60 L454.31,107.76 L454.66,105.67 L455.01,103.32 L455.36,100.71 L455.71,97.83 L456.06,94.69 L456.41,91.30 L456.76,87.69 L457.12,83.88 L457.47,79.93 L457.82,75.89 L458.17,71.87 L458.52,67.97 L458.87,64.29 L459.22,60.95 L459.57,58.08 L459.92,55.77 L460.27,54.10 L460.62,53.10 L460.97,52.79 L461.32,53.12 L461.68,54.04 L462.03,55.44 L462.38,57.19 L462.73,59.18 L463.08,61.27 L463.43,63.34 L463.78,65.28 L464.13,67.03 L464.48,68.52 L464.83,69.74 L465.18,70.70 L465.53,71.40 L465.88,71.90 L466.24,72.23 L466.59,72.46 L466.94,72.63 L467.29,72.80 L467.64,73.01 L467.99,73.30 L468.34,73.69 L468.69,74.22 L469.04,74.88 L469.39,75.70 L469.74,76.67 L470.09,77.78 L470.45,79.04 L470.80,80.44 L471.15,81.95 L471.50,83.58 L471.85,85.31 L472.20,87.12 L472.55,89.00 L472.90,90.94 L473.25,92.92 L473.60,94.94 L473.95,96.97 L474.30,99.02 L474.65,101.07 L475.01,103.11 L475.36,105.13 L475.71,107.11 L476.06,109.07 L476.41,110.98 L476.76,112.84 L477.11,114.64 L477.46,116.38 L477.81,118.06 L478.16,119.67 L478.51,121.20 L478.86,122.66 L479.21,124.05 L479.57,125.35 L479.92,126.58 L480.27,127.73 L480.62,128.80 L480.97,129.80 L481.32,130.72 L481.67,131.57 L482.02,132.35 L482.37,133.06 L482.72,133.70 L483.07,134.29 L483.42,134.81 L483.77,135.29 L484.13,135.71 L484.48,136.09 L484.83,136.42 L485.18,136.71 L485.53,136.97 L485.88,137.20 L486.23,137.40 L486.58,137.57 L486.93,137.72 L487.28,137.84 L487.63,137.95 L487.98,138.04 L488.34,138.12 L488.69,138.19 L489.04,138.24 L489.39,138.29 L489.74,138.33 L490.09,138.36 L490.44,138.39 L490.79,138.41 L491.14,138.43 L491.49,138.44 L491.84,138.45 L492.19,138.46 L492.54,138.47 L492.90,138.48 L493.25,138.48 L493.60,138.49 L493.95,138.49 L494.30,138.49 L494.65,138.49 L495.00,138.50" stroke="#48a648" stroke-width="1.3" fill="none" stroke-linejoin="round"/>
<path d="M428.00,138.49 L428.35,138.49 L428.70,138.49 L429.05,138.49 L429.40,138.48 L429.75,138.48 L430.10,138.47 L430.46,138.46 L430.81,138.45 L431.16,138.44 L431.51,138.43 L431.86,138.41 L432.21,138.39 L432.56,138.37 L432.91,138.34 L433.26,138.31 L433.61,138.28 L433.96,138.24 L434.31,138.20 L434.66,138.15 L435.02,138.09 L435.37,138.03 L435.72,137.97 L436.07,137.90 L436.42,137.83 L436.77,137.74 L437.12,137.66 L437.47,137.56 L437.82,137.46 L438.17,137.36 L438.52,137.24 L438.87,137.12 L439.23,136.99 L439.58,136.85 L439.93,136.69 L440.28,136.53 L440.63,136.35 L440.98,136.16 L441.33,135.96 L441.68,135.74 L442.03,135.51 L442.38,135.27 L442.73,135.03 L443.08,134.77 L443.43,134.52 L443.79,134.27 L444.14,134.02 L444.49,133.79 L444.84,133.56 L445.19,133.36 L445.54,133.16 L445.89,132.99 L446.24,132.82 L446.59,132.65 L446.94,132.47 L447.29,132.27 L447.64,132.03 L447.99,131.73 L448.35,131.36 L448.70,130.91 L449.05,130.37 L449.40,129.75 L449.75,129.03 L450.10,128.24 L450.45,127.39 L450.80,126.47 L451.15,125.51 L451.50,124.49 L451.85,123.43 L452.20,122.31 L452.55,121.13 L452.91,119.86 L453.26,118.49 L453.61,117.00 L453.96,115.38 L454.31,113.62 L454.66,111.68 L455.01,109.54 L455.36,107.17 L455.71,104.53 L456.06,101.61 L456.41,98.37 L456.76,94.83 L457.12,91.01 L457.47,86.98 L457.82,82.86 L458.17,78.78 L458.52,74.93 L458.87,71.48 L459.22,68.63 L459.57,66.52 L459.92,65.25 L460.27,64.86 L460.62,65.31 L460.97,66.51 L461.32,68.32 L461.68,70.53 L462.03,72.97 L462.38,75.43 L462.73,77.77 L463.08,79.86 L463.43,81.61 L463.78,82.97 L464.13,83.90 L464.48,84.38 L464.83,84.40 L465.18,83.95 L465.53,83.08 L465.88,81.83 L466.24,80.30 L466.59,78.60 L466.94,76.86 L467.29,75.21 L467.64,73.76 L467.99,72.59 L468.34,71.75 L468.69,71.27 L469.04,71.14 L469.39,71.36 L469.74,71.90 L470.09,72.75 L470.45,73.88 L470.80,75.27 L471.15,76.89 L471.50,78.71 L471.85,80.71 L472.20,82.86 L472.55,85.12 L472.90,87.47 L473.25,89.87 L473.60,92.31 L473.95,94.75 L474.30,97.17 L474.65,99.56 L475.01,101.91 L475.36,104.19 L475.71,106.41 L476.06,108.55 L476.41,110.62 L476.76,112.60 L477.11,114.50 L477.46,116.31 L477.81,118.04 L478.16,119.68 L478.51,121.24 L478.86,122.71 L479.21,124.10 L479.57,125.41 L479.92,126.63 L480.27,127.78 L480.62,128.84 L480.97,129.83 L481.32,130.75 L481.67,131.59 L482.02,132.37 L482.37,133.07 L482.72,133.72 L483.07,134.30 L483.42,134.82 L483.77,135.29 L484.13,135.72 L484.48,136.09 L484.83,136.42 L485.18,136.72 L485.53,136.98 L485.88,137.20 L486.23,137.40 L486.58,137.57 L486.93,137.72 L487.28,137.84 L487.63,137.95 L487.98,138.04 L488.34,138.12 L488.69,138.19 L489.04,138.24 L489.39,138.29 L489.74,138.33 L490.09,138.36 L490.44,138.39 L490.79,138.41 L491.14,138.43 L491.49,138.44 L491.84,138.45 L492.19,138.46 L492.54,138.47 L492.90,138.48 L493.25,138.48 L493.60,138.49 L493.95,138.49 L494.30,138.49 L494.65,138.49 L495.00,138.50" stroke="#3a649d" stroke-width="1.3" fill="none" stroke-linejoin="round"/>
<path d="M428.00,138.49 L428.35,138.49 L428.70,138.49 L429.05,138.49 L429.40,138.48 L429.75,138.48 L430.10,138.47 L430.46,138.46 L430.81,138.45 L431.16,138.44 L431.51,138.43 L431.86,138.41 L432.21,138.39 L432.56,138.37 L432.91,138.34 L433.26,138.31 L433.61,138.28 L433.96,138.24 L434.31,138.20 L434.66,138.15 L435.02,138.09 L435.37,138.03 L435.72,137.97 L436.07,137.90 L436.42,137.83 L436.77,137.74 L437.12,137.66 L437.47,137.56 L437.82,137.46 L438.17,137.36 L438.52,137.24 L438.87,137.12 L439.23,136.99 L439.58,136.85 L439.93,136.69 L440.28,136.53 L440.63,136.35 L440.98,136.16 L441.33,135.96 L441.68,135.74 L442.03,135.51 L442.38,135.27 L442.73,135.03 L443.08,134.77 L443.43,134.51 L443.79,134.26 L444.14,134.00 L444.49,133.74 L444.84,133.49 L445.19,133.23 L445.54,132.95 L445.89,132.64 L446.24,132.27 L446.59,131.81 L446.94,131.23 L447.29,130.47 L447.64,129.51 L447.99,128.32 L448.35,126.87 L448.70,125.17 L449.05,123.26 L449.40,121.19 L449.75,119.04 L450.10,116.91 L450.45,114.90 L450.80,113.10 L451.15,111.58 L451.50,110.37 L451.85,109.46 L452.20,108.78 L452.55,108.26 L452.91,107.78 L453.26,107.22 L453.61,106.45 L453.96,105.38 L454.31,103.92 L454.66,102.00 L455.01,99.58 L455.36,96.64 L455.71,93.18 L456.06,89.21 L456.41,84.75 L456.76,79.84 L457.12,74.55 L457.47,68.97 L457.82,63.23 L458.17,57.47 L458.52,51.87 L458.87,46.62 L459.22,41.90 L459.57,37.91 L459.92,34.79 L460.27,32.68 L460.62,31.62 L460.97,31.64 L461.32,32.68 L461.68,34.63 L462.03,37.34 L462.38,40.63 L462.73,44.29 L463.08,48.12 L463.43,51.94 L463.78,55.58 L464.13,58.92 L464.48,61.87 L464.83,64.38 L465.18,66.45 L465.53,68.10 L465.88,69.38 L466.24,70.34 L466.59,71.07 L466.94,71.63 L467.29,72.09 L467.64,72.51 L467.99,72.96 L468.34,73.46 L468.69,74.06 L469.04,74.78 L469.39,75.64 L469.74,76.63 L470.09,77.76 L470.45,79.03 L470.80,80.43 L471.15,81.95 L471.50,83.58 L471.85,85.30 L472.20,87.12 L472.55,89.00 L472.90,90.94 L473.25,92.92 L473.60,94.94 L473.95,96.97 L474.30,99.02 L474.65,101.07 L475.01,103.11 L475.36,105.13 L475.71,107.11 L476.06,109.07 L476.41,110.98 L476.76,112.84 L477.11,114.64 L477.46,116.38 L477.81,118.06 L478.16,119.67 L478.51,121.20 L478.86,122.66 L479.21,124.05 L479.57,125.35 L479.92,126.58 L480.27,127.73 L480.62,128.80 L480.97,129.80 L481.32,130.72 L481.67,131.57 L482.02,132.35 L482.37,133.06 L482.72,133.70 L483.07,134.29 L483.42,134.81 L483.77,135.29 L484.13,135.71 L484.48,136.09 L484.83,136.42 L485.18,136.71 L485.53,136.97 L485.88,137.20 L486.23,137.40 L486.58,137.57 L486.93,137.72 L487.28,137.84 L487.63,137.95 L487.98,138.04 L488.34,138.12 L488.69,138.19 L489.04,138.24 L489.39,138.29 L489.74,138.33 L490.09,138.36 L490.44,138.39 L490.79,138.41 L491.14,138.43 L491.49,138.44 L491.84,138.45 L492.19,138.46 L492.54,138.47 L492.90,138.48 L493.25,138.48 L493.60,138.49 L493.95,138.49 L494.30,138.49 L494.65,138.49 L495.00,138.50" stroke="#62297a" stroke-width="1.3" fill="none" stroke-linejoin="round"/>
<line x1="394.10" y1="138.80" x2="396.70" y2="138.80" stroke="#231f20" stroke-width="1"/>
<text x="390.60" y="141.70" font-size="8.4" text-anchor="end">0</text>
<line x1="394.10" y1="116.52" x2="396.70" y2="116.52" stroke="#231f20" stroke-width="1"/>
<text x="390.60" y="119.42" font-size="8.4" text-anchor="end">100</text>
<line x1="394.10" y1="94.24" x2="396.70" y2="94.24" stroke="#231f20" stroke-width="1"/>
<text x="390.60" y="97.14" font-size="8.4" text-anchor="end">200</text>
<line x1="394.10" y1="71.96" x2="396.70" y2="71.96" stroke="#231f20" stroke-width="1"/>
<text x="390.60" y="74.86" font-size="8.4" text-anchor="end">300</text>
<line x1="394.10" y1="49.68" x2="396.70" y2="49.68" stroke="#231f20" stroke-width="1"/>
<text x="390.60" y="52.58" font-size="8.4" text-anchor="end">400</text>
<line x1="394.10" y1="27.40" x2="396.70" y2="27.40" stroke="#231f20" stroke-width="1"/>
<text x="390.60" y="30.30" font-size="8.4" text-anchor="end">500</text>
<line x1="395.40" y1="138.80" x2="396.70" y2="138.80" stroke="#231f20" stroke-width="0.6"/>
<line x1="395.40" y1="134.34" x2="396.70" y2="134.34" stroke="#231f20" stroke-width="0.6"/>
<line x1="395.40" y1="129.89" x2="396.70" y2="129.89" stroke="#231f20" stroke-width="0.6"/>
<line x1="395.40" y1="125.43" x2="396.70" y2="125.43" stroke="#231f20" stroke-width="0.6"/>
<line x1="395.40" y1="120.98" x2="396.70" y2="120.98" stroke="#231f20" stroke-width="0.6"/>
<line x1="395.40" y1="116.52" x2="396.70" y2="116.52" stroke="#231f20" stroke-width="0.6"/>
<line x1="395.40" y1="112.06" x2="396.70" y2="112.06" stroke="#231f20" stroke-width="0.6"/>
<line x1="395.40" y1="107.61" x2="396.70" y2="107.61" stroke="#231f20" stroke-width="0.6"/>
<line x1="395.40" y1="103.15" x2="396.70" y2="103.15" stroke="#231f20" stroke-width="0.6"/>
<line x1="395.40" y1="98.70" x2="396.70" y2="98.70" stroke="#231f20" stroke-width="0.6"/>
<line x1="395.40" y1="94.24" x2="396.70" y2="94.24" stroke="#231f20" stroke-width="0.6"/>
<line x1="395.40" y1="89.78" x2="396.70" y2="89.78" stroke="#231f20" stroke-width="0.6"/>
<line x1="395.40" y1="85.33" x2="396.70" y2="85.33" stroke="#231f20" stroke-width="0.6"/>
<line x1="395.40" y1="80.87" x2="396.70" y2="80.87" stroke="#231f20" stroke-width="0.6"/>
<line x1="395.40" y1="76.42" x2="396.70" y2="76.42" stroke="#231f20" stroke-width="0.6"/>
<line x1="395.40" y1="71.96" x2="396.70" y2="71.96" stroke="#231f20" stroke-width="0.6"/>
<line x1="395.40" y1="67.50" x2="396.70" y2="67.50" stroke="#231f20" stroke-width="0.6"/>
<line x1="395.40" y1="63.05" x2="396.70" y2="63.05" stroke="#231f20" stroke-width="0.6"/>
<line x1="395.40" y1="58.59" x2="396.70" y2="58.59" stroke="#231f20" stroke-width="0.6"/>
<line x1="395.40" y1="54.14" x2="396.70" y2="54.14" stroke="#231f20" stroke-width="0.6"/>
<line x1="395.40" y1="49.68" x2="396.70" y2="49.68" stroke="#231f20" stroke-width="0.6"/>
<line x1="395.40" y1="45.22" x2="396.70" y2="45.22" stroke="#231f20" stroke-width="0.6"/>
<line x1="395.40" y1="40.77" x2="396.70" y2="40.77" stroke="#231f20" stroke-width="0.6"/>
<line x1="395.40" y1="36.31" x2="396.70" y2="36.31" stroke="#231f20" stroke-width="0.6"/>
<line x1="395.40" y1="31.86" x2="396.70" y2="31.86" stroke="#231f20" stroke-width="0.6"/>
<line x1="395.40" y1="27.40" x2="396.70" y2="27.40" stroke="#231f20" stroke-width="0.6"/>
<line x1="406.00" y1="138.80" x2="406.00" y2="141.20" stroke="#231f20" stroke-width="1"/>
<text x="404.30" y="153.80" font-size="7.0" text-anchor="middle" fill="#231f20">&#8722;10<tspan font-size="4.76" dy="-2.6">3</tspan></text>
<text x="424.90" y="153.80" font-size="7.0" text-anchor="middle">0</text>
<line x1="441.00" y1="138.80" x2="441.00" y2="141.20" stroke="#231f20" stroke-width="1"/>
<text x="441.00" y="153.80" font-size="7.0" text-anchor="middle" fill="#231f20">10<tspan font-size="4.76" dy="-2.6">3</tspan></text>
<line x1="471.50" y1="138.80" x2="471.50" y2="141.20" stroke="#231f20" stroke-width="1"/>
<text x="472.40" y="153.80" font-size="7.0" text-anchor="middle" fill="#231f20">10<tspan font-size="4.76" dy="-2.6">4</tspan></text>
<line x1="497.80" y1="138.80" x2="497.80" y2="141.20" stroke="#231f20" stroke-width="1"/>
<text x="499.00" y="153.80" font-size="7.0" text-anchor="middle" fill="#231f20">10<tspan font-size="4.76" dy="-2.6">5</tspan></text>
<line x1="421.40" y1="138.80" x2="421.40" y2="141.00" stroke="#231f20" stroke-width="0.8"/>
<line x1="422.60" y1="138.80" x2="422.60" y2="141.00" stroke="#231f20" stroke-width="0.8"/>
<line x1="423.80" y1="138.80" x2="423.80" y2="141.00" stroke="#231f20" stroke-width="0.8"/>
<line x1="425.00" y1="138.80" x2="425.00" y2="141.00" stroke="#231f20" stroke-width="0.8"/>
<line x1="414.60" y1="138.80" x2="414.60" y2="140.40" stroke="#231f20" stroke-width="0.7"/>
<line x1="432.10" y1="138.80" x2="432.10" y2="140.40" stroke="#231f20" stroke-width="0.7"/>
<line x1="450.18" y1="138.80" x2="450.18" y2="140.10" stroke="#231f20" stroke-width="0.55"/>
<line x1="455.55" y1="138.80" x2="455.55" y2="140.10" stroke="#231f20" stroke-width="0.55"/>
<line x1="459.36" y1="138.80" x2="459.36" y2="140.10" stroke="#231f20" stroke-width="0.55"/>
<line x1="462.32" y1="138.80" x2="462.32" y2="140.10" stroke="#231f20" stroke-width="0.55"/>
<line x1="464.73" y1="138.80" x2="464.73" y2="140.10" stroke="#231f20" stroke-width="0.55"/>
<line x1="466.78" y1="138.80" x2="466.78" y2="140.10" stroke="#231f20" stroke-width="0.55"/>
<line x1="468.54" y1="138.80" x2="468.54" y2="140.10" stroke="#231f20" stroke-width="0.55"/>
<line x1="470.10" y1="138.80" x2="470.10" y2="140.10" stroke="#231f20" stroke-width="0.55"/>
<line x1="479.42" y1="138.80" x2="479.42" y2="140.10" stroke="#231f20" stroke-width="0.55"/>
<line x1="484.05" y1="138.80" x2="484.05" y2="140.10" stroke="#231f20" stroke-width="0.55"/>
<line x1="487.33" y1="138.80" x2="487.33" y2="140.10" stroke="#231f20" stroke-width="0.55"/>
<line x1="489.88" y1="138.80" x2="489.88" y2="140.10" stroke="#231f20" stroke-width="0.55"/>
<line x1="491.97" y1="138.80" x2="491.97" y2="140.10" stroke="#231f20" stroke-width="0.55"/>
<line x1="493.73" y1="138.80" x2="493.73" y2="140.10" stroke="#231f20" stroke-width="0.55"/>
<line x1="495.25" y1="138.80" x2="495.25" y2="140.10" stroke="#231f20" stroke-width="0.55"/>
<line x1="496.60" y1="138.80" x2="496.60" y2="140.10" stroke="#231f20" stroke-width="0.55"/>
<text x="452.20" y="20.40" font-size="9.4" text-anchor="middle" textLength="54.80" lengthAdjust="spacingAndGlyphs">BTK WT Pt 2</text>
<text x="402.60" y="35.30" font-size="7.6" textLength="33.00" lengthAdjust="spacingAndGlyphs" fill="#c9284a">Pirto 41%</text>
<text x="402.60" y="44.60" font-size="7.6" textLength="27.00" lengthAdjust="spacingAndGlyphs" fill="#3a649d">Ibr 37%</text>
<text x="402.60" y="54.20" font-size="7.6" textLength="35.00" lengthAdjust="spacingAndGlyphs" fill="#48a648">Acala 45%</text>
<text x="402.60" y="63.60" font-size="7.6" textLength="40.20" lengthAdjust="spacingAndGlyphs" fill="#62297a">DMSO 47%</text>
<rect x="330.20" y="177.60" width="12.10" height="112.80" fill="#d9d9d9"/>
<rect x="326.70" y="188.60" width="26.5" height="5.8" fill="#ffffff" fill-opacity="0.7"/>
<text x="326.20" y="193.60" font-size="6.2" textLength="27.20" lengthAdjust="spacingAndGlyphs" fill="#2a2a2a" stroke="#2a2a2a" stroke-width="0.15">Undivided</text>
<line x1="332.20" y1="200.00" x2="342.80" y2="200.00" stroke="#333" stroke-width="0.8"/>
<line x1="332.20" y1="198.50" x2="332.20" y2="201.50" stroke="#333" stroke-width="0.8"/>
<line x1="342.80" y1="198.50" x2="342.80" y2="201.50" stroke="#333" stroke-width="0.8"/>
<rect x="253.90" y="177.60" width="113.00" height="112.80" fill="none" stroke="#231f20" stroke-width="1.15"/>
<path d="M300.00,290.10 L300.35,290.10 L300.70,290.10 L301.05,290.10 L301.41,290.10 L301.76,290.10 L302.11,290.10 L302.46,290.10 L302.81,290.10 L303.16,290.10 L303.51,290.09 L303.86,290.09 L304.22,290.09 L304.57,290.09 L304.92,290.08 L305.27,290.07 L305.62,290.07 L305.97,290.06 L306.32,290.04 L306.68,290.03 L307.03,290.01 L307.38,289.98 L307.73,289.95 L308.08,289.92 L308.43,289.87 L308.78,289.82 L309.14,289.76 L309.49,289.68 L309.84,289.60 L310.19,289.51 L310.54,289.40 L310.89,289.28 L311.24,289.14 L311.59,288.99 L311.95,288.83 L312.30,288.65 L312.65,288.47 L313.00,288.27 L313.35,288.06 L313.70,287.85 L314.05,287.64 L314.41,287.43 L314.76,287.22 L315.11,287.02 L315.46,286.83 L315.81,286.65 L316.16,286.49 L316.51,286.35 L316.86,286.22 L317.22,286.11 L317.57,285.99 L317.92,285.85 L318.27,285.67 L318.62,285.41 L318.97,285.04 L319.32,284.52 L319.68,283.84 L320.03,282.99 L320.38,282.02 L320.73,280.99 L321.08,280.01 L321.43,279.19 L321.78,278.64 L322.14,278.42 L322.49,278.54 L322.84,278.95 L323.19,279.51 L323.54,280.04 L323.89,280.32 L324.24,280.12 L324.59,279.26 L324.95,277.54 L325.30,274.85 L325.65,271.09 L326.00,266.25 L326.35,260.35 L326.70,253.50 L327.05,245.90 L327.41,237.79 L327.76,229.52 L328.11,221.49 L328.46,214.11 L328.81,207.81 L329.16,202.94 L329.51,199.81 L329.86,198.58 L330.22,199.28 L330.57,201.83 L330.92,205.99 L331.27,211.45 L331.62,217.83 L331.97,224.73 L332.32,231.77 L332.68,238.64 L333.03,245.07 L333.38,250.91 L333.73,256.07 L334.08,260.55 L334.43,264.40 L334.78,267.68 L335.14,270.50 L335.49,272.96 L335.84,275.13 L336.19,277.08 L336.54,278.85 L336.89,280.47 L337.24,281.96 L337.59,283.31 L337.95,284.52 L338.30,285.59 L338.65,286.51 L339.00,287.30 L339.35,287.95 L339.70,288.49 L340.05,288.91 L340.41,289.24 L340.76,289.49 L341.11,289.67 L341.46,289.81 L341.81,289.91 L342.16,289.97 L342.51,290.02 L342.86,290.05 L343.22,290.07 L343.57,290.08 L343.92,290.09 L344.27,290.09 L344.62,290.10 L344.97,290.10 L345.32,290.10 L345.68,290.10 L346.03,290.10 L346.38,290.10 L346.73,290.10 L347.08,290.10 L347.43,290.10 L347.78,290.10 L348.14,290.10 L348.49,290.10 L348.84,290.10 L349.19,290.10 L349.54,290.10 L349.89,290.10 L350.24,290.10 L350.59,290.10 L350.95,290.10 L351.30,290.10 L351.65,290.10 L352.00,290.10" stroke="#3a649d" stroke-width="1.3" fill="none" stroke-linejoin="round"/>
<path d="M300.00,289.69 L300.35,289.63 L300.70,289.57 L301.05,289.49 L301.41,289.42 L301.76,289.33 L302.11,289.24 L302.46,289.14 L302.81,289.03 L303.16,288.92 L303.51,288.81 L303.86,288.69 L304.22,288.56 L304.57,288.44 L304.92,288.31 L305.27,288.18 L305.62,288.05 L305.97,287.92 L306.32,287.79 L306.68,287.66 L307.03,287.53 L307.38,287.39 L307.73,287.25 L308.08,287.09 L308.43,286.91 L308.78,286.70 L309.14,286.44 L309.49,286.12 L309.84,285.72 L310.19,285.22 L310.54,284.60 L310.89,283.86 L311.24,282.97 L311.59,281.94 L311.95,280.77 L312.30,279.48 L312.65,278.10 L313.00,276.68 L313.35,275.26 L313.70,273.92 L314.05,272.71 L314.41,271.70 L314.76,270.95 L315.11,270.51 L315.46,270.38 L315.81,270.59 L316.16,271.08 L316.51,271.81 L316.86,272.68 L317.22,273.57 L317.57,274.34 L317.92,274.84 L318.27,274.92 L318.62,274.43 L318.97,273.32 L319.32,271.56 L319.68,269.23 L320.03,266.50 L320.38,263.63 L320.73,260.94 L321.08,258.76 L321.43,257.38 L321.78,257.00 L322.14,257.70 L322.49,259.42 L322.84,261.95 L323.19,264.98 L323.54,268.15 L323.89,271.07 L324.24,273.39 L324.59,274.82 L324.95,275.13 L325.30,274.20 L325.65,271.93 L326.00,268.31 L326.35,263.41 L326.70,257.34 L327.05,250.27 L327.41,242.47 L327.76,234.25 L328.11,226.00 L328.46,218.14 L328.81,211.09 L329.16,205.27 L329.51,201.01 L329.86,198.56 L330.22,198.04 L330.57,199.41 L330.92,202.55 L331.27,207.18 L331.62,212.95 L331.97,219.50 L332.32,226.42 L332.68,233.37 L333.03,240.06 L333.38,246.28 L333.73,251.90 L334.08,256.87 L334.43,261.21 L334.78,264.96 L335.14,268.22 L335.49,271.05 L335.84,273.55 L336.19,275.78 L336.54,277.79 L336.89,279.61 L337.24,281.26 L337.59,282.75 L337.95,284.07 L338.30,285.23 L338.65,286.24 L339.00,287.09 L339.35,287.79 L339.70,288.37 L340.05,288.82 L340.41,289.18 L340.76,289.44 L341.11,289.64 L341.46,289.79 L341.81,289.89 L342.16,289.96 L342.51,290.01 L342.86,290.04 L343.22,290.07 L343.57,290.08 L343.92,290.09 L344.27,290.09 L344.62,290.10 L344.97,290.10 L345.32,290.10 L345.68,290.10 L346.03,290.10 L346.38,290.10 L346.73,290.10 L347.08,290.10 L347.43,290.10 L347.78,290.10 L348.14,290.10 L348.49,290.10 L348.84,290.10 L349.19,290.10 L349.54,290.10 L349.89,290.10 L350.24,290.10 L350.59,290.10 L350.95,290.10 L351.30,290.10 L351.65,290.10 L352.00,290.10" stroke="#c9284a" stroke-width="1.3" fill="none" stroke-linejoin="round"/>
<path d="M253.80,290.10 L254.15,290.10 L254.50,290.10 L254.85,290.10 L255.20,290.10 L255.55,290.10 L255.90,290.10 L256.25,290.10 L256.60,290.10 L256.95,290.10 L257.30,290.10 L257.65,290.10 L258.00,290.10 L258.35,290.10 L258.70,290.10 L259.05,290.10 L259.40,290.10 L259.75,290.10 L260.10,290.10 L260.45,290.10 L260.80,290.10 L261.15,290.10 L261.50,290.10 L261.85,290.10 L262.20,290.10 L262.55,290.10 L262.90,290.10 L263.25,290.10 L263.60,290.10 L263.95,290.10 L264.30,290.10 L264.65,290.10 L265.00,290.10 L265.36,290.10 L265.71,290.10 L266.06,290.10 L266.41,290.10 L266.76,290.10 L267.11,290.10 L267.46,290.10 L267.81,290.10 L268.16,290.10 L268.51,290.10 L268.86,290.10 L269.21,290.10 L269.56,290.10 L269.91,290.10 L270.26,290.10 L270.61,290.10 L270.96,290.10 L271.31,290.10 L271.66,290.10 L272.01,290.10 L272.36,290.10 L272.71,290.10 L273.06,290.10 L273.41,290.10 L273.76,290.10 L274.11,290.10 L274.46,290.10 L274.81,290.10 L275.16,290.10 L275.51,290.10 L275.86,290.10 L276.21,290.10 L276.56,290.10 L276.91,290.10 L277.26,290.10 L277.61,290.10 L277.96,290.10 L278.31,290.10 L278.66,290.10 L279.01,290.10 L279.36,290.10 L279.71,290.10 L280.06,290.10 L280.41,290.10 L280.76,290.10 L281.11,290.10 L281.46,290.10 L281.81,290.10 L282.16,290.10 L282.51,290.10 L282.86,290.10 L283.21,290.10 L283.56,290.10 L283.91,290.10 L284.26,290.10 L284.61,290.10 L284.96,290.10 L285.31,290.10 L285.66,290.10 L286.01,290.10 L286.36,290.10 L286.71,290.10 L287.06,290.10 L287.41,290.10 L287.77,290.10 L288.12,290.10 L288.47,290.10 L288.82,290.10 L289.17,290.10 L289.52,290.10 L289.87,290.10 L290.22,290.10 L290.57,290.10 L290.92,290.10 L291.27,290.10 L291.62,290.10 L291.97,290.10 L292.32,290.09 L292.67,290.09 L293.02,290.09 L293.37,290.09 L293.72,290.09 L294.07,290.08 L294.42,290.08 L294.77,290.07 L295.12,290.06 L295.47,290.06 L295.82,290.05 L296.17,290.03 L296.52,290.02 L296.87,290.00 L297.22,289.99 L297.57,289.96 L297.92,289.94 L298.27,289.91 L298.62,289.87 L298.97,289.84 L299.32,289.79 L299.67,289.74 L300.02,289.69 L300.37,289.63 L300.72,289.56 L301.07,289.49 L301.42,289.41 L301.77,289.33 L302.12,289.23 L302.47,289.13 L302.82,289.03 L303.17,288.92 L303.52,288.80 L303.87,288.68 L304.22,288.56 L304.57,288.43 L304.92,288.31 L305.27,288.18 L305.62,288.05 L305.97,287.92 L306.32,287.79 L306.67,287.67 L307.02,287.55 L307.37,287.43 L307.72,287.31 L308.07,287.19 L308.42,287.08 L308.77,286.96 L309.12,286.83 L309.47,286.69 L309.82,286.53 L310.18,286.35 L310.53,286.14 L310.88,285.90 L311.23,285.62 L311.58,285.30 L311.93,284.92 L312.28,284.50 L312.63,284.03 L312.98,283.52 L313.33,282.97 L313.68,282.39 L314.03,281.80 L314.38,281.20 L314.73,280.61 L315.08,280.04 L315.43,279.49 L315.78,278.93 L316.13,278.34 L316.48,277.67 L316.83,276.84 L317.18,275.75 L317.53,274.29 L317.88,272.36 L318.23,269.89 L318.58,266.85 L318.93,263.31 L319.28,259.44 L319.63,255.48 L319.98,251.80 L320.33,248.75 L320.68,246.70 L321.03,245.93 L321.38,246.58 L321.73,248.63 L322.08,251.91 L322.43,256.09 L322.78,260.78 L323.13,265.55 L323.48,269.99 L323.83,273.78 L324.18,276.65 L324.53,278.45 L324.88,279.06 L325.23,278.45 L325.58,276.60 L325.93,273.50 L326.28,269.18 L326.63,263.70 L326.98,257.15 L327.33,249.67 L327.68,241.50 L328.03,232.92 L328.38,224.32 L328.73,216.09 L329.08,208.67 L329.43,202.47 L329.78,197.85 L330.13,195.07 L330.48,194.26 L330.83,195.43 L331.18,198.43 L331.53,203.02 L331.88,208.86 L332.23,215.57 L332.59,222.75 L332.94,230.04 L333.29,237.15 L333.64,243.83 L333.99,249.94 L334.34,255.40 L334.69,260.21 L335.04,264.40 L335.39,268.04 L335.74,271.20 L336.09,273.95 L336.44,276.37 L336.79,278.50 L337.14,280.39 L337.49,282.06 L337.84,283.52 L338.19,284.79 L338.54,285.88 L338.89,286.80 L339.24,287.56 L339.59,288.18 L339.94,288.68 L340.29,289.06 L340.64,289.36 L340.99,289.58 L341.34,289.74 L341.69,289.86 L342.04,289.94 L342.39,290.00 L342.74,290.03 L343.09,290.06 L343.44,290.07 L343.79,290.08 L344.14,290.09 L344.49,290.09 L344.84,290.10 L345.19,290.10 L345.54,290.10 L345.89,290.10 L346.24,290.10 L346.59,290.10 L346.94,290.10 L347.29,290.10 L347.64,290.10 L347.99,290.10 L348.34,290.10 L348.69,290.10 L349.04,290.10 L349.39,290.10 L349.74,290.10 L350.09,290.10 L350.44,290.10 L350.79,290.10 L351.14,290.10 L351.49,290.10 L351.84,290.10 L352.19,290.10 L352.54,290.10 L352.89,290.10 L353.24,290.10 L353.59,290.10 L353.94,290.10 L354.29,290.10 L354.64,290.10 L355.00,290.10 L355.35,290.10 L355.70,290.10 L356.05,290.10 L356.40,290.10 L356.75,290.10 L357.10,290.10 L357.45,290.10 L357.80,290.10 L358.15,290.10 L358.50,290.10 L358.85,290.10 L359.20,290.10 L359.55,290.10 L359.90,290.10 L360.25,290.10 L360.60,290.10 L360.95,290.10 L361.30,290.10 L361.65,290.10 L362.00,290.10 L362.35,290.10 L362.70,290.10 L363.05,290.10 L363.40,290.10 L363.75,290.10 L364.10,290.10 L364.45,290.10 L364.80,290.10 L365.15,290.10 L365.50,290.10 L365.85,290.10 L366.20,290.10" stroke="#48a648" stroke-width="1.3" fill="none" stroke-linejoin="round"/>
<path d="M300.00,289.69 L300.35,289.63 L300.70,289.57 L301.05,289.49 L301.41,289.42 L301.76,289.33 L302.11,289.24 L302.46,289.14 L302.81,289.03 L303.16,288.92 L303.51,288.81 L303.86,288.69 L304.22,288.56 L304.57,288.43 L304.92,288.30 L305.27,288.17 L305.62,288.04 L305.97,287.90 L306.32,287.76 L306.68,287.62 L307.03,287.46 L307.38,287.29 L307.73,287.10 L308.08,286.88 L308.43,286.61 L308.78,286.28 L309.14,285.87 L309.49,285.36 L309.84,284.73 L310.19,283.96 L310.54,283.04 L310.89,281.95 L311.24,280.70 L311.59,279.30 L311.95,277.78 L312.30,276.16 L312.65,274.50 L313.00,272.85 L313.35,271.28 L313.70,269.84 L314.05,268.60 L314.41,267.60 L314.76,266.85 L315.11,266.38 L315.46,266.15 L315.81,266.12 L316.16,266.25 L316.51,266.46 L316.86,266.68 L317.22,266.83 L317.57,266.85 L317.92,266.69 L318.27,266.31 L318.62,265.67 L318.97,264.75 L319.32,263.52 L319.68,261.97 L320.03,260.04 L320.38,257.69 L320.73,254.84 L321.08,251.45 L321.43,247.46 L321.78,242.84 L322.14,237.61 L322.49,231.86 L322.84,225.73 L323.19,219.44 L323.54,213.26 L323.89,207.53 L324.24,202.58 L324.59,198.76 L324.95,196.33 L325.30,195.51 L325.65,196.41 L326.00,199.02 L326.35,203.21 L326.70,208.76 L327.05,215.39 L327.41,222.73 L327.76,230.45 L328.11,238.19 L328.46,245.65 L328.81,252.61 L329.16,258.90 L329.51,264.42 L329.86,269.14 L330.22,273.09 L330.57,276.32 L330.92,278.93 L331.27,281.01 L331.62,282.65 L331.97,283.96 L332.32,284.99 L332.68,285.83 L333.03,286.52 L333.38,287.09 L333.73,287.57 L334.08,287.99 L334.43,288.35 L334.78,288.65 L335.14,288.92 L335.49,289.15 L335.84,289.34 L336.19,289.50 L336.54,289.63 L336.89,289.74 L337.24,289.83 L337.59,289.90 L337.95,289.95 L338.30,289.99 L338.65,290.02 L339.00,290.04 L339.35,290.06 L339.70,290.07 L340.05,290.08 L340.41,290.09 L340.76,290.09 L341.11,290.09 L341.46,290.10 L341.81,290.10 L342.16,290.10 L342.51,290.10 L342.86,290.10 L343.22,290.10 L343.57,290.10 L343.92,290.10 L344.27,290.10 L344.62,290.10 L344.97,290.10 L345.32,290.10 L345.68,290.10 L346.03,290.10 L346.38,290.10 L346.73,290.10 L347.08,290.10 L347.43,290.10 L347.78,290.10 L348.14,290.10 L348.49,290.10 L348.84,290.10 L349.19,290.10 L349.54,290.10 L349.89,290.10 L350.24,290.10 L350.59,290.10 L350.95,290.10 L351.30,290.10 L351.65,290.10 L352.00,290.10" stroke="#62297a" stroke-width="1.3" fill="none" stroke-linejoin="round"/>
<line x1="251.30" y1="290.50" x2="253.90" y2="290.50" stroke="#231f20" stroke-width="1"/>
<text x="247.80" y="293.40" font-size="8.4" text-anchor="end">0</text>
<line x1="251.30" y1="270.90" x2="253.90" y2="270.90" stroke="#231f20" stroke-width="1"/>
<text x="247.80" y="273.80" font-size="8.4" text-anchor="end">50</text>
<line x1="251.30" y1="251.30" x2="253.90" y2="251.30" stroke="#231f20" stroke-width="1"/>
<text x="247.80" y="254.20" font-size="8.4" text-anchor="end">100</text>
<line x1="251.30" y1="231.70" x2="253.90" y2="231.70" stroke="#231f20" stroke-width="1"/>
<text x="247.80" y="234.60" font-size="8.4" text-anchor="end">150</text>
<line x1="251.30" y1="212.10" x2="253.90" y2="212.10" stroke="#231f20" stroke-width="1"/>
<text x="247.80" y="215.00" font-size="8.4" text-anchor="end">200</text>
<line x1="251.30" y1="192.50" x2="253.90" y2="192.50" stroke="#231f20" stroke-width="1"/>
<text x="247.80" y="195.40" font-size="8.4" text-anchor="end">250</text>
<line x1="252.60" y1="290.50" x2="253.90" y2="290.50" stroke="#231f20" stroke-width="0.6"/>
<line x1="252.60" y1="286.58" x2="253.90" y2="286.58" stroke="#231f20" stroke-width="0.6"/>
<line x1="252.60" y1="282.66" x2="253.90" y2="282.66" stroke="#231f20" stroke-width="0.6"/>
<line x1="252.60" y1="278.74" x2="253.90" y2="278.74" stroke="#231f20" stroke-width="0.6"/>
<line x1="252.60" y1="274.82" x2="253.90" y2="274.82" stroke="#231f20" stroke-width="0.6"/>
<line x1="252.60" y1="270.90" x2="253.90" y2="270.90" stroke="#231f20" stroke-width="0.6"/>
<line x1="252.60" y1="266.98" x2="253.90" y2="266.98" stroke="#231f20" stroke-width="0.6"/>
<line x1="252.60" y1="263.06" x2="253.90" y2="263.06" stroke="#231f20" stroke-width="0.6"/>
<line x1="252.60" y1="259.14" x2="253.90" y2="259.14" stroke="#231f20" stroke-width="0.6"/>
<line x1="252.60" y1="255.22" x2="253.90" y2="255.22" stroke="#231f20" stroke-width="0.6"/>
<line x1="252.60" y1="251.30" x2="253.90" y2="251.30" stroke="#231f20" stroke-width="0.6"/>
<line x1="252.60" y1="247.38" x2="253.90" y2="247.38" stroke="#231f20" stroke-width="0.6"/>
<line x1="252.60" y1="243.46" x2="253.90" y2="243.46" stroke="#231f20" stroke-width="0.6"/>
<line x1="252.60" y1="239.54" x2="253.90" y2="239.54" stroke="#231f20" stroke-width="0.6"/>
<line x1="252.60" y1="235.62" x2="253.90" y2="235.62" stroke="#231f20" stroke-width="0.6"/>
<line x1="252.60" y1="231.70" x2="253.90" y2="231.70" stroke="#231f20" stroke-width="0.6"/>
<line x1="252.60" y1="227.78" x2="253.90" y2="227.78" stroke="#231f20" stroke-width="0.6"/>
<line x1="252.60" y1="223.86" x2="253.90" y2="223.86" stroke="#231f20" stroke-width="0.6"/>
<line x1="252.60" y1="219.94" x2="253.90" y2="219.94" stroke="#231f20" stroke-width="0.6"/>
<line x1="252.60" y1="216.02" x2="253.90" y2="216.02" stroke="#231f20" stroke-width="0.6"/>
<line x1="252.60" y1="212.10" x2="253.90" y2="212.10" stroke="#231f20" stroke-width="0.6"/>
<line x1="252.60" y1="208.18" x2="253.90" y2="208.18" stroke="#231f20" stroke-width="0.6"/>
<line x1="252.60" y1="204.26" x2="253.90" y2="204.26" stroke="#231f20" stroke-width="0.6"/>
<line x1="252.60" y1="200.34" x2="253.90" y2="200.34" stroke="#231f20" stroke-width="0.6"/>
<line x1="252.60" y1="196.42" x2="253.90" y2="196.42" stroke="#231f20" stroke-width="0.6"/>
<line x1="252.60" y1="192.50" x2="253.90" y2="192.50" stroke="#231f20" stroke-width="0.6"/>
<line x1="252.60" y1="188.58" x2="253.90" y2="188.58" stroke="#231f20" stroke-width="0.6"/>
<line x1="252.60" y1="184.66" x2="253.90" y2="184.66" stroke="#231f20" stroke-width="0.6"/>
<line x1="252.60" y1="180.74" x2="253.90" y2="180.74" stroke="#231f20" stroke-width="0.6"/>
<line x1="260.80" y1="290.40" x2="260.80" y2="292.80" stroke="#231f20" stroke-width="1"/>
<text x="262.70" y="305.00" font-size="7.0" text-anchor="middle" fill="#231f20">&#8722;10<tspan font-size="4.76" dy="-2.6">3</tspan></text>
<text x="282.90" y="305.00" font-size="7.0" text-anchor="middle">0</text>
<line x1="297.80" y1="290.40" x2="297.80" y2="292.80" stroke="#231f20" stroke-width="1"/>
<text x="299.20" y="305.00" font-size="7.0" text-anchor="middle" fill="#231f20">10<tspan font-size="4.76" dy="-2.6">3</tspan></text>
<line x1="328.50" y1="290.40" x2="328.50" y2="292.80" stroke="#231f20" stroke-width="1"/>
<text x="330.40" y="305.00" font-size="7.0" text-anchor="middle" fill="#231f20">10<tspan font-size="4.76" dy="-2.6">4</tspan></text>
<line x1="355.00" y1="290.40" x2="355.00" y2="292.80" stroke="#231f20" stroke-width="1"/>
<text x="356.90" y="305.00" font-size="7.0" text-anchor="middle" fill="#231f20">10<tspan font-size="4.76" dy="-2.6">5</tspan></text>
<line x1="277.50" y1="290.40" x2="277.50" y2="292.60" stroke="#231f20" stroke-width="0.8"/>
<line x1="278.70" y1="290.40" x2="278.70" y2="292.60" stroke="#231f20" stroke-width="0.8"/>
<line x1="279.90" y1="290.40" x2="279.90" y2="292.60" stroke="#231f20" stroke-width="0.8"/>
<line x1="281.10" y1="290.40" x2="281.10" y2="292.60" stroke="#231f20" stroke-width="0.8"/>
<line x1="270.05" y1="290.40" x2="270.05" y2="292.00" stroke="#231f20" stroke-width="0.7"/>
<line x1="288.55" y1="290.40" x2="288.55" y2="292.00" stroke="#231f20" stroke-width="0.7"/>
<line x1="307.04" y1="290.40" x2="307.04" y2="291.70" stroke="#231f20" stroke-width="0.55"/>
<line x1="312.45" y1="290.40" x2="312.45" y2="291.70" stroke="#231f20" stroke-width="0.55"/>
<line x1="316.28" y1="290.40" x2="316.28" y2="291.70" stroke="#231f20" stroke-width="0.55"/>
<line x1="319.26" y1="290.40" x2="319.26" y2="291.70" stroke="#231f20" stroke-width="0.55"/>
<line x1="321.69" y1="290.40" x2="321.69" y2="291.70" stroke="#231f20" stroke-width="0.55"/>
<line x1="323.74" y1="290.40" x2="323.74" y2="291.70" stroke="#231f20" stroke-width="0.55"/>
<line x1="325.52" y1="290.40" x2="325.52" y2="291.70" stroke="#231f20" stroke-width="0.55"/>
<line x1="327.10" y1="290.40" x2="327.10" y2="291.70" stroke="#231f20" stroke-width="0.55"/>
<line x1="336.48" y1="290.40" x2="336.48" y2="291.70" stroke="#231f20" stroke-width="0.55"/>
<line x1="341.14" y1="290.40" x2="341.14" y2="291.70" stroke="#231f20" stroke-width="0.55"/>
<line x1="344.45" y1="290.40" x2="344.45" y2="291.70" stroke="#231f20" stroke-width="0.55"/>
<line x1="347.02" y1="290.40" x2="347.02" y2="291.70" stroke="#231f20" stroke-width="0.55"/>
<line x1="349.12" y1="290.40" x2="349.12" y2="291.70" stroke="#231f20" stroke-width="0.55"/>
<line x1="350.90" y1="290.40" x2="350.90" y2="291.70" stroke="#231f20" stroke-width="0.55"/>
<line x1="352.43" y1="290.40" x2="352.43" y2="291.70" stroke="#231f20" stroke-width="0.55"/>
<line x1="353.79" y1="290.40" x2="353.79" y2="291.70" stroke="#231f20" stroke-width="0.55"/>
<text x="309.80" y="172.50" font-size="9.4" text-anchor="middle" textLength="54.80" lengthAdjust="spacingAndGlyphs">BTK WT Pt 3</text>
<text x="260.20" y="188.90" font-size="7.6" textLength="33.00" lengthAdjust="spacingAndGlyphs" fill="#c9284a">Pirto 15%</text>
<text x="260.20" y="198.20" font-size="7.6" textLength="22.60" lengthAdjust="spacingAndGlyphs" fill="#3a649d">Ibr 5%</text>
<text x="260.20" y="207.50" font-size="7.6" textLength="35.00" lengthAdjust="spacingAndGlyphs" fill="#48a648">Acala 13%</text>
<text x="260.20" y="216.80" font-size="7.6" textLength="40.20" lengthAdjust="spacingAndGlyphs" fill="#62297a">DMSO 21%</text>
<rect x="469.60" y="177.70" width="8.80" height="114.10" fill="#d9d9d9"/>
<rect x="464.30" y="188.60" width="26.5" height="5.8" fill="#ffffff" fill-opacity="0.7"/>
<text x="463.80" y="193.60" font-size="6.2" textLength="27.20" lengthAdjust="spacingAndGlyphs" fill="#2a2a2a" stroke="#2a2a2a" stroke-width="0.15">Undivided</text>
<line x1="469.90" y1="200.20" x2="478.80" y2="200.20" stroke="#333" stroke-width="0.8"/>
<line x1="469.90" y1="198.70" x2="469.90" y2="201.70" stroke="#333" stroke-width="0.8"/>
<line x1="478.80" y1="198.70" x2="478.80" y2="201.70" stroke="#333" stroke-width="0.8"/>
<rect x="395.60" y="177.70" width="114.20" height="114.10" fill="none" stroke="#231f20" stroke-width="1.15"/>
<path d="M440.00,291.50 L440.35,291.50 L440.70,291.50 L441.05,291.50 L441.41,291.50 L441.76,291.50 L442.11,291.50 L442.46,291.50 L442.81,291.50 L443.16,291.50 L443.51,291.50 L443.86,291.50 L444.22,291.50 L444.57,291.50 L444.92,291.50 L445.27,291.50 L445.62,291.50 L445.97,291.50 L446.32,291.50 L446.68,291.50 L447.03,291.50 L447.38,291.50 L447.73,291.50 L448.08,291.50 L448.43,291.50 L448.78,291.50 L449.14,291.50 L449.49,291.50 L449.84,291.50 L450.19,291.50 L450.54,291.49 L450.89,291.49 L451.24,291.48 L451.59,291.47 L451.95,291.46 L452.30,291.44 L452.65,291.40 L453.00,291.36 L453.35,291.30 L453.70,291.22 L454.05,291.12 L454.41,290.99 L454.76,290.83 L455.11,290.63 L455.46,290.40 L455.81,290.13 L456.16,289.82 L456.51,289.49 L456.86,289.14 L457.22,288.77 L457.57,288.39 L457.92,288.02 L458.27,287.66 L458.62,287.30 L458.97,286.95 L459.32,286.58 L459.68,286.17 L460.03,285.69 L460.38,285.08 L460.73,284.28 L461.08,283.22 L461.43,281.85 L461.78,280.08 L462.14,277.88 L462.49,275.20 L462.84,272.03 L463.19,268.41 L463.54,264.40 L463.89,260.09 L464.24,255.65 L464.59,251.24 L464.95,247.07 L465.30,243.33 L465.65,240.22 L466.00,237.92 L466.35,236.55 L466.70,236.20 L467.05,236.87 L467.41,238.53 L467.76,241.07 L468.11,244.35 L468.46,248.19 L468.81,252.38 L469.16,256.75 L469.51,261.09 L469.86,265.26 L470.22,269.13 L470.57,272.62 L470.92,275.67 L471.27,278.29 L471.62,280.46 L471.97,282.24 L472.32,283.66 L472.68,284.77 L473.03,285.64 L473.38,286.31 L473.73,286.82 L474.08,287.23 L474.43,287.55 L474.78,287.82 L475.14,288.06 L475.49,288.27 L475.84,288.46 L476.19,288.65 L476.54,288.83 L476.89,289.01 L477.24,289.19 L477.59,289.36 L477.95,289.53 L478.30,289.69 L478.65,289.85 L479.00,290.00 L479.35,290.14 L479.70,290.28 L480.05,290.41 L480.41,290.53 L480.76,290.64 L481.11,290.74 L481.46,290.83 L481.81,290.92 L482.16,290.99 L482.51,291.06 L482.86,291.12 L483.22,291.18 L483.57,291.22 L483.92,291.27 L484.27,291.30 L484.62,291.33 L484.97,291.36 L485.32,291.39 L485.68,291.41 L486.03,291.42 L486.38,291.44 L486.73,291.45 L487.08,291.46 L487.43,291.47 L487.78,291.47 L488.14,291.48 L488.49,291.48 L488.84,291.49 L489.19,291.49 L489.54,291.49 L489.89,291.49 L490.24,291.49 L490.59,291.50 L490.95,291.50 L491.30,291.50 L491.65,291.50 L492.00,291.50" stroke="#3a649d" stroke-width="1.3" fill="none" stroke-linejoin="round"/>
<path d="M440.00,291.49 L440.35,291.49 L440.70,291.48 L441.05,291.48 L441.41,291.47 L441.76,291.46 L442.11,291.45 L442.46,291.44 L442.81,291.42 L443.16,291.40 L443.51,291.38 L443.86,291.35 L444.22,291.32 L444.57,291.28 L444.92,291.24 L445.27,291.19 L445.62,291.14 L445.97,291.07 L446.32,291.00 L446.68,290.93 L447.03,290.84 L447.38,290.76 L447.73,290.66 L448.08,290.56 L448.43,290.46 L448.78,290.35 L449.14,290.25 L449.49,290.14 L449.84,290.03 L450.19,289.93 L450.54,289.84 L450.89,289.74 L451.24,289.66 L451.59,289.57 L451.95,289.50 L452.30,289.42 L452.65,289.33 L453.00,289.23 L453.35,289.11 L453.70,288.97 L454.05,288.78 L454.41,288.54 L454.76,288.25 L455.11,287.90 L455.46,287.49 L455.81,287.02 L456.16,286.52 L456.51,286.00 L456.86,285.47 L457.22,284.97 L457.57,284.51 L457.92,284.10 L458.27,283.74 L458.62,283.43 L458.97,283.12 L459.32,282.77 L459.68,282.32 L460.03,281.68 L460.38,280.77 L460.73,279.50 L461.08,277.79 L461.43,275.54 L461.78,272.71 L462.14,269.24 L462.49,265.14 L462.84,260.41 L463.19,255.10 L463.54,249.32 L463.89,243.17 L464.24,236.82 L464.59,230.46 L464.95,224.28 L465.30,218.50 L465.65,213.35 L466.00,209.01 L466.35,205.66 L466.70,203.44 L467.05,202.44 L467.41,202.69 L467.76,204.19 L468.11,206.85 L468.46,210.56 L468.81,215.15 L469.16,220.46 L469.51,226.25 L469.86,232.34 L470.22,238.53 L470.57,244.62 L470.92,250.48 L471.27,255.97 L471.62,261.01 L471.97,265.54 L472.32,269.54 L472.68,273.00 L473.03,275.95 L473.38,278.43 L473.73,280.49 L474.08,282.17 L474.43,283.54 L474.78,284.65 L475.14,285.54 L475.49,286.27 L475.84,286.86 L476.19,287.35 L476.54,287.76 L476.89,288.11 L477.24,288.43 L477.59,288.70 L477.95,288.96 L478.30,289.19 L478.65,289.40 L479.00,289.60 L479.35,289.79 L479.70,289.97 L480.05,290.13 L480.41,290.28 L480.76,290.42 L481.11,290.55 L481.46,290.66 L481.81,290.77 L482.16,290.87 L482.51,290.95 L482.86,291.03 L483.22,291.10 L483.57,291.16 L483.92,291.21 L484.27,291.25 L484.62,291.29 L484.97,291.33 L485.32,291.36 L485.68,291.38 L486.03,291.40 L486.38,291.42 L486.73,291.43 L487.08,291.45 L487.43,291.46 L487.78,291.47 L488.14,291.47 L488.49,291.48 L488.84,291.48 L489.19,291.49 L489.54,291.49 L489.89,291.49 L490.24,291.49 L490.59,291.50 L490.95,291.50 L491.30,291.50 L491.65,291.50 L492.00,291.50" stroke="#48a648" stroke-width="1.3" fill="none" stroke-linejoin="round"/>
<path d="M440.00,291.44 L440.35,291.43 L440.70,291.42 L441.05,291.40 L441.41,291.38 L441.76,291.35 L442.11,291.32 L442.46,291.28 L442.81,291.24 L443.16,291.20 L443.51,291.14 L443.86,291.08 L444.22,291.01 L444.57,290.93 L444.92,290.85 L445.27,290.75 L445.62,290.64 L445.97,290.52 L446.32,290.39 L446.68,290.25 L447.03,290.10 L447.38,289.94 L447.73,289.76 L448.08,289.58 L448.43,289.39 L448.78,289.19 L449.14,288.99 L449.49,288.78 L449.84,288.56 L450.19,288.35 L450.54,288.13 L450.89,287.90 L451.24,287.67 L451.59,287.42 L451.95,287.15 L452.30,286.82 L452.65,286.41 L453.00,285.87 L453.35,285.16 L453.70,284.23 L454.05,283.02 L454.41,281.51 L454.76,279.68 L455.11,277.58 L455.46,275.29 L455.81,272.95 L456.16,270.74 L456.51,268.85 L456.86,267.48 L457.22,266.74 L457.57,266.73 L457.92,267.42 L458.27,268.70 L458.62,270.40 L458.97,272.30 L459.32,274.15 L459.68,275.72 L460.03,276.81 L460.38,277.28 L460.73,277.02 L461.08,275.97 L461.43,274.12 L461.78,271.46 L462.14,268.03 L462.49,263.86 L462.84,259.01 L463.19,253.57 L463.54,247.65 L463.89,241.37 L464.24,234.91 L464.59,228.44 L464.95,222.17 L465.30,216.32 L465.65,211.11 L466.00,206.73 L466.35,203.36 L466.70,201.15 L467.05,200.17 L467.41,200.48 L467.76,202.05 L468.11,204.81 L468.46,208.63 L468.81,213.36 L469.16,218.81 L469.51,224.77 L469.86,231.02 L470.22,237.36 L470.57,243.61 L470.92,249.61 L471.27,255.24 L471.62,260.40 L471.97,265.04 L472.32,269.13 L472.68,272.68 L473.03,275.70 L473.38,278.23 L473.73,280.34 L474.08,282.06 L474.43,283.46 L474.78,284.59 L475.14,285.50 L475.49,286.23 L475.84,286.83 L476.19,287.33 L476.54,287.75 L476.89,288.11 L477.24,288.42 L477.59,288.70 L477.95,288.95 L478.30,289.19 L478.65,289.40 L479.00,289.60 L479.35,289.79 L479.70,289.97 L480.05,290.13 L480.41,290.28 L480.76,290.42 L481.11,290.55 L481.46,290.66 L481.81,290.77 L482.16,290.87 L482.51,290.95 L482.86,291.03 L483.22,291.10 L483.57,291.16 L483.92,291.21 L484.27,291.25 L484.62,291.29 L484.97,291.33 L485.32,291.36 L485.68,291.38 L486.03,291.40 L486.38,291.42 L486.73,291.43 L487.08,291.45 L487.43,291.46 L487.78,291.47 L488.14,291.47 L488.49,291.48 L488.84,291.48 L489.19,291.49 L489.54,291.49 L489.89,291.49 L490.24,291.49 L490.59,291.50 L490.95,291.50 L491.30,291.50 L491.65,291.50 L492.00,291.50" stroke="#62297a" stroke-width="1.3" fill="none" stroke-linejoin="round"/>
<path d="M440.00,291.49 L440.35,291.49 L440.70,291.48 L441.05,291.48 L441.41,291.47 L441.76,291.46 L442.11,291.45 L442.46,291.44 L442.81,291.42 L443.16,291.40 L443.51,291.38 L443.86,291.35 L444.22,291.32 L444.57,291.28 L444.92,291.24 L445.27,291.19 L445.62,291.14 L445.97,291.07 L446.32,291.00 L446.68,290.93 L447.03,290.84 L447.38,290.75 L447.73,290.66 L448.08,290.56 L448.43,290.46 L448.78,290.35 L449.14,290.25 L449.49,290.14 L449.84,290.03 L450.19,289.93 L450.54,289.84 L450.89,289.74 L451.24,289.66 L451.59,289.57 L451.95,289.50 L452.30,289.42 L452.65,289.33 L453.00,289.23 L453.35,289.11 L453.70,288.96 L454.05,288.78 L454.41,288.54 L454.76,288.25 L455.11,287.89 L455.46,287.48 L455.81,287.02 L456.16,286.51 L456.51,285.98 L456.86,285.45 L457.22,284.94 L457.57,284.47 L457.92,284.04 L458.27,283.66 L458.62,283.30 L458.97,282.94 L459.32,282.51 L459.68,281.96 L460.03,281.18 L460.38,280.09 L460.73,278.58 L461.08,276.55 L461.43,273.92 L461.78,270.60 L462.14,266.55 L462.49,261.75 L462.84,256.20 L463.19,249.95 L463.54,243.11 L463.89,235.81 L464.24,228.21 L464.59,220.54 L464.95,213.03 L465.30,205.93 L465.65,199.51 L466.00,194.00 L466.35,189.63 L466.70,186.57 L467.05,184.94 L467.41,184.82 L467.76,186.19 L468.11,188.99 L468.46,193.10 L468.81,198.33 L469.16,204.46 L469.51,211.27 L469.86,218.50 L470.22,225.90 L470.57,233.26 L470.92,240.38 L471.27,247.10 L471.62,253.30 L471.97,258.92 L472.32,263.89 L472.68,268.23 L473.03,271.94 L473.38,275.08 L473.73,277.68 L474.08,279.83 L474.43,281.58 L474.78,282.99 L475.14,284.13 L475.49,285.06 L475.84,285.81 L476.19,286.43 L476.54,286.95 L476.89,287.40 L477.24,287.78 L477.59,288.12 L477.95,288.43 L478.30,288.72 L478.65,288.98 L479.00,289.22 L479.35,289.45 L479.70,289.66 L480.05,289.85 L480.41,290.04 L480.76,290.20 L481.11,290.36 L481.46,290.50 L481.81,290.62 L482.16,290.74 L482.51,290.84 L482.86,290.93 L483.22,291.02 L483.57,291.09 L483.92,291.15 L484.27,291.20 L484.62,291.25 L484.97,291.29 L485.32,291.33 L485.68,291.36 L486.03,291.38 L486.38,291.40 L486.73,291.42 L487.08,291.44 L487.43,291.45 L487.78,291.46 L488.14,291.47 L488.49,291.47 L488.84,291.48 L489.19,291.48 L489.54,291.49 L489.89,291.49 L490.24,291.49 L490.59,291.49 L490.95,291.50 L491.30,291.50 L491.65,291.50 L492.00,291.50" stroke="#c9284a" stroke-width="1.3" fill="none" stroke-linejoin="round"/>
<line x1="393.00" y1="291.50" x2="395.60" y2="291.50" stroke="#231f20" stroke-width="1"/>
<line x1="393.00" y1="270.67" x2="395.60" y2="270.67" stroke="#231f20" stroke-width="1"/>
<text x="389.50" y="273.57" font-size="8.4" text-anchor="end">100</text>
<line x1="393.00" y1="249.84" x2="395.60" y2="249.84" stroke="#231f20" stroke-width="1"/>
<text x="389.50" y="252.74" font-size="8.4" text-anchor="end">200</text>
<line x1="393.00" y1="229.01" x2="395.60" y2="229.01" stroke="#231f20" stroke-width="1"/>
<text x="389.50" y="231.91" font-size="8.4" text-anchor="end">300</text>
<line x1="393.00" y1="208.18" x2="395.60" y2="208.18" stroke="#231f20" stroke-width="1"/>
<text x="389.50" y="211.08" font-size="8.4" text-anchor="end">400</text>
<line x1="393.00" y1="187.35" x2="395.60" y2="187.35" stroke="#231f20" stroke-width="1"/>
<text x="389.50" y="190.25" font-size="8.4" text-anchor="end">500</text>
<line x1="394.30" y1="291.50" x2="395.60" y2="291.50" stroke="#231f20" stroke-width="0.6"/>
<line x1="394.30" y1="287.33" x2="395.60" y2="287.33" stroke="#231f20" stroke-width="0.6"/>
<line x1="394.30" y1="283.17" x2="395.60" y2="283.17" stroke="#231f20" stroke-width="0.6"/>
<line x1="394.30" y1="279.00" x2="395.60" y2="279.00" stroke="#231f20" stroke-width="0.6"/>
<line x1="394.30" y1="274.84" x2="395.60" y2="274.84" stroke="#231f20" stroke-width="0.6"/>
<line x1="394.30" y1="270.67" x2="395.60" y2="270.67" stroke="#231f20" stroke-width="0.6"/>
<line x1="394.30" y1="266.50" x2="395.60" y2="266.50" stroke="#231f20" stroke-width="0.6"/>
<line x1="394.30" y1="262.34" x2="395.60" y2="262.34" stroke="#231f20" stroke-width="0.6"/>
<line x1="394.30" y1="258.17" x2="395.60" y2="258.17" stroke="#231f20" stroke-width="0.6"/>
<line x1="394.30" y1="254.01" x2="395.60" y2="254.01" stroke="#231f20" stroke-width="0.6"/>
<line x1="394.30" y1="249.84" x2="395.60" y2="249.84" stroke="#231f20" stroke-width="0.6"/>
<line x1="394.30" y1="245.67" x2="395.60" y2="245.67" stroke="#231f20" stroke-width="0.6"/>
<line x1="394.30" y1="241.51" x2="395.60" y2="241.51" stroke="#231f20" stroke-width="0.6"/>
<line x1="394.30" y1="237.34" x2="395.60" y2="237.34" stroke="#231f20" stroke-width="0.6"/>
<line x1="394.30" y1="233.18" x2="395.60" y2="233.18" stroke="#231f20" stroke-width="0.6"/>
<line x1="394.30" y1="229.01" x2="395.60" y2="229.01" stroke="#231f20" stroke-width="0.6"/>
<line x1="394.30" y1="224.84" x2="395.60" y2="224.84" stroke="#231f20" stroke-width="0.6"/>
<line x1="394.30" y1="220.68" x2="395.60" y2="220.68" stroke="#231f20" stroke-width="0.6"/>
<line x1="394.30" y1="216.51" x2="395.60" y2="216.51" stroke="#231f20" stroke-width="0.6"/>
<line x1="394.30" y1="212.35" x2="395.60" y2="212.35" stroke="#231f20" stroke-width="0.6"/>
<line x1="394.30" y1="208.18" x2="395.60" y2="208.18" stroke="#231f20" stroke-width="0.6"/>
<line x1="394.30" y1="204.01" x2="395.60" y2="204.01" stroke="#231f20" stroke-width="0.6"/>
<line x1="394.30" y1="199.85" x2="395.60" y2="199.85" stroke="#231f20" stroke-width="0.6"/>
<line x1="394.30" y1="195.68" x2="395.60" y2="195.68" stroke="#231f20" stroke-width="0.6"/>
<line x1="394.30" y1="191.52" x2="395.60" y2="191.52" stroke="#231f20" stroke-width="0.6"/>
<line x1="394.30" y1="187.35" x2="395.60" y2="187.35" stroke="#231f20" stroke-width="0.6"/>
<line x1="394.30" y1="183.18" x2="395.60" y2="183.18" stroke="#231f20" stroke-width="0.6"/>
<line x1="394.30" y1="179.02" x2="395.60" y2="179.02" stroke="#231f20" stroke-width="0.6"/>
<line x1="404.50" y1="291.80" x2="404.50" y2="294.20" stroke="#231f20" stroke-width="1"/>
<text x="404.30" y="305.00" font-size="7.0" text-anchor="middle" fill="#231f20">&#8722;10<tspan font-size="4.76" dy="-2.6">3</tspan></text>
<text x="424.40" y="305.00" font-size="7.0" text-anchor="middle">0</text>
<line x1="438.50" y1="291.80" x2="438.50" y2="294.20" stroke="#231f20" stroke-width="1"/>
<text x="440.80" y="305.00" font-size="7.0" text-anchor="middle" fill="#231f20">10<tspan font-size="4.76" dy="-2.6">3</tspan></text>
<line x1="470.00" y1="291.80" x2="470.00" y2="294.20" stroke="#231f20" stroke-width="1"/>
<text x="472.40" y="305.00" font-size="7.0" text-anchor="middle" fill="#231f20">10<tspan font-size="4.76" dy="-2.6">4</tspan></text>
<line x1="497.50" y1="291.80" x2="497.50" y2="294.20" stroke="#231f20" stroke-width="1"/>
<text x="499.00" y="305.00" font-size="7.0" text-anchor="middle" fill="#231f20">10<tspan font-size="4.76" dy="-2.6">5</tspan></text>
<line x1="419.70" y1="291.80" x2="419.70" y2="294.00" stroke="#231f20" stroke-width="0.8"/>
<line x1="420.90" y1="291.80" x2="420.90" y2="294.00" stroke="#231f20" stroke-width="0.8"/>
<line x1="422.10" y1="291.80" x2="422.10" y2="294.00" stroke="#231f20" stroke-width="0.8"/>
<line x1="423.30" y1="291.80" x2="423.30" y2="294.00" stroke="#231f20" stroke-width="0.8"/>
<line x1="413.00" y1="291.80" x2="413.00" y2="293.40" stroke="#231f20" stroke-width="0.7"/>
<line x1="430.00" y1="291.80" x2="430.00" y2="293.40" stroke="#231f20" stroke-width="0.7"/>
<line x1="447.98" y1="291.80" x2="447.98" y2="293.10" stroke="#231f20" stroke-width="0.55"/>
<line x1="453.53" y1="291.80" x2="453.53" y2="293.10" stroke="#231f20" stroke-width="0.55"/>
<line x1="457.46" y1="291.80" x2="457.46" y2="293.10" stroke="#231f20" stroke-width="0.55"/>
<line x1="460.52" y1="291.80" x2="460.52" y2="293.10" stroke="#231f20" stroke-width="0.55"/>
<line x1="463.01" y1="291.80" x2="463.01" y2="293.10" stroke="#231f20" stroke-width="0.55"/>
<line x1="465.12" y1="291.80" x2="465.12" y2="293.10" stroke="#231f20" stroke-width="0.55"/>
<line x1="466.95" y1="291.80" x2="466.95" y2="293.10" stroke="#231f20" stroke-width="0.55"/>
<line x1="468.56" y1="291.80" x2="468.56" y2="293.10" stroke="#231f20" stroke-width="0.55"/>
<line x1="478.28" y1="291.80" x2="478.28" y2="293.10" stroke="#231f20" stroke-width="0.55"/>
<line x1="483.12" y1="291.80" x2="483.12" y2="293.10" stroke="#231f20" stroke-width="0.55"/>
<line x1="486.56" y1="291.80" x2="486.56" y2="293.10" stroke="#231f20" stroke-width="0.55"/>
<line x1="489.22" y1="291.80" x2="489.22" y2="293.10" stroke="#231f20" stroke-width="0.55"/>
<line x1="491.40" y1="291.80" x2="491.40" y2="293.10" stroke="#231f20" stroke-width="0.55"/>
<line x1="493.24" y1="291.80" x2="493.24" y2="293.10" stroke="#231f20" stroke-width="0.55"/>
<line x1="494.83" y1="291.80" x2="494.83" y2="293.10" stroke="#231f20" stroke-width="0.55"/>
<line x1="496.24" y1="291.80" x2="496.24" y2="293.10" stroke="#231f20" stroke-width="0.55"/>
<text x="452.70" y="172.60" font-size="9.4" text-anchor="middle" textLength="54.80" lengthAdjust="spacingAndGlyphs">BTK WT Pt 4</text>
<text x="401.70" y="190.40" font-size="7.6" textLength="28.20" lengthAdjust="spacingAndGlyphs" fill="#c9284a">Pirto 4%</text>
<text x="401.70" y="199.60" font-size="7.6" textLength="22.60" lengthAdjust="spacingAndGlyphs" fill="#3a649d">Ibr 2%</text>
<text x="401.70" y="208.80" font-size="7.6" textLength="30.50" lengthAdjust="spacingAndGlyphs" fill="#48a648">Acala 4%</text>
<text x="401.70" y="218.00" font-size="7.6" textLength="40.20" lengthAdjust="spacingAndGlyphs" fill="#62297a">DMSO 12%</text>
<line x1="246.80" y1="311.70" x2="514.00" y2="311.70" stroke="#231f20" stroke-width="1.0"/>
<path d="M519.6,311.7 L511.8,308.6 L513.4,311.7 L511.8,314.8 Z" fill="#231f20"/>
<text x="368.60" y="323.10" font-size="8.6" textLength="11.40" lengthAdjust="spacingAndGlyphs" stroke="#231f20" stroke-width="0.3">CTV</text>
<text x="230.60" y="347.50" font-size="11.8" textLength="7.20" lengthAdjust="spacingAndGlyphs" font-weight="bold">E</text>
<line x1="258.50" y1="361.30" x2="258.50" y2="456.00" stroke="#231f20" stroke-width="1.25"/>
<line x1="258.00" y1="455.40" x2="358.50" y2="455.40" stroke="#231f20" stroke-width="1.25"/>
<line x1="255.60" y1="455.30" x2="258.50" y2="455.30" stroke="#231f20" stroke-width="1.0"/>
<text x="251.90" y="458.30" font-size="8.2" text-anchor="end" textLength="4.40" lengthAdjust="spacingAndGlyphs">0</text>
<line x1="255.60" y1="432.60" x2="258.50" y2="432.60" stroke="#231f20" stroke-width="1.0"/>
<text x="251.90" y="435.60" font-size="8.2" text-anchor="end" textLength="9.20" lengthAdjust="spacingAndGlyphs">10</text>
<line x1="255.60" y1="409.90" x2="258.50" y2="409.90" stroke="#231f20" stroke-width="1.0"/>
<text x="251.90" y="412.90" font-size="8.2" text-anchor="end" textLength="9.20" lengthAdjust="spacingAndGlyphs">20</text>
<line x1="255.60" y1="387.20" x2="258.50" y2="387.20" stroke="#231f20" stroke-width="1.0"/>
<text x="251.90" y="390.20" font-size="8.2" text-anchor="end" textLength="9.20" lengthAdjust="spacingAndGlyphs">30</text>
<line x1="255.60" y1="364.50" x2="258.50" y2="364.50" stroke="#231f20" stroke-width="1.0"/>
<text x="251.90" y="367.50" font-size="8.2" text-anchor="end" textLength="9.20" lengthAdjust="spacingAndGlyphs">40</text>
<line x1="280.80" y1="455.40" x2="280.80" y2="458.40" stroke="#231f20" stroke-width="1.0"/>
<line x1="313.60" y1="455.40" x2="313.60" y2="458.40" stroke="#231f20" stroke-width="1.0"/>
<line x1="347.00" y1="455.40" x2="347.00" y2="458.40" stroke="#231f20" stroke-width="1.0"/>
<text x="235.80" y="448.10" font-size="7.6" textLength="75.00" lengthAdjust="spacingAndGlyphs" transform="rotate(-90 235.80 448.10)" stroke="#231f20" stroke-width="0.12">% proliferation inhibition</text>
<line x1="288.30" y1="428.40" x2="288.30" y2="442.00" stroke="#8f8a86" stroke-width="1.0"/>
<line x1="283.30" y1="428.40" x2="293.30" y2="428.40" stroke="#8f8a86" stroke-width="1.0"/>
<line x1="277.30" y1="438.10" x2="299.30" y2="438.10" stroke="#8f8a86" stroke-width="1.5"/>
<line x1="313.90" y1="420.10" x2="313.90" y2="432.20" stroke="#8f8a86" stroke-width="1.0"/>
<line x1="308.90" y1="420.10" x2="318.90" y2="420.10" stroke="#8f8a86" stroke-width="1.0"/>
<line x1="308.90" y1="432.20" x2="318.90" y2="432.20" stroke="#8f8a86" stroke-width="1.0"/>
<line x1="302.80" y1="427.00" x2="325.00" y2="427.00" stroke="#8f8a86" stroke-width="1.5"/>
<line x1="347.50" y1="430.50" x2="347.50" y2="447.40" stroke="#8f8a86" stroke-width="1.0"/>
<line x1="342.50" y1="430.50" x2="352.50" y2="430.50" stroke="#8f8a86" stroke-width="1.0"/>
<line x1="342.50" y1="447.40" x2="352.50" y2="447.40" stroke="#8f8a86" stroke-width="1.0"/>
<line x1="336.40" y1="437.10" x2="358.60" y2="437.10" stroke="#8f8a86" stroke-width="1.5"/>
<circle cx="287.80" cy="425.40" r="1.9" fill="#1f2b58"/>
<circle cx="285.70" cy="437.10" r="1.9" fill="#8e1c22"/>
<circle cx="285.70" cy="441.70" r="1.5499999999999998" fill="#ffffff" stroke="#7d8a80" stroke-width="0.9"/>
<circle cx="291.40" cy="440.70" r="1.5499999999999998" fill="#ffffff" stroke="#c4863e" stroke-width="0.9"/>
<circle cx="316.30" cy="419.50" r="1.9" fill="#1f2b58"/>
<circle cx="311.00" cy="420.60" r="1.5499999999999998" fill="#ffffff" stroke="#c4863e" stroke-width="0.9"/>
<circle cx="311.00" cy="432.20" r="1.5499999999999998" fill="#ffffff" stroke="#7d8a80" stroke-width="0.9"/>
<circle cx="316.30" cy="432.20" r="1.9" fill="#8e1c22"/>
<circle cx="347.00" cy="427.60" r="1.9" fill="#1f2b58"/>
<circle cx="344.30" cy="437.10" r="1.5499999999999998" fill="#ffffff" stroke="#c4863e" stroke-width="0.9"/>
<circle cx="350.20" cy="437.10" r="1.9" fill="#8e1c22"/>
<circle cx="347.00" cy="450.80" r="1.5499999999999998" fill="#ffffff" stroke="#7d8a80" stroke-width="0.9"/>
<circle cx="264.60" cy="357.60" r="1.3" fill="#1f2b58"/>
<text x="267.50" y="360.10" font-size="7.2" textLength="42.80" lengthAdjust="spacingAndGlyphs">BTK WT Pt 1</text>
<circle cx="264.60" cy="366.40" r="1.0" fill="#fff" stroke="#7d8a80" stroke-width="0.8"/>
<text x="267.50" y="368.90" font-size="7.2" textLength="43.50" lengthAdjust="spacingAndGlyphs">BTK WT Pt 2</text>
<circle cx="322.60" cy="357.60" r="1.0" fill="#fff" stroke="#c4863e" stroke-width="0.8"/>
<text x="325.60" y="360.10" font-size="7.2" textLength="42.90" lengthAdjust="spacingAndGlyphs">BTK WT Pt 3</text>
<circle cx="322.60" cy="366.40" r="1.3" fill="#8e1c22"/>
<text x="325.60" y="368.90" font-size="7.2" textLength="42.90" lengthAdjust="spacingAndGlyphs">BTK WT Pt 4</text>
<text x="284.40" y="469.70" font-size="7.7" text-anchor="end" textLength="35.20" lengthAdjust="spacingAndGlyphs" transform="rotate(-45 284.40 469.70)" stroke="#231f20" stroke-width="0.1">Pirto 1 &#956;M</text>
<text x="317.20" y="469.70" font-size="7.7" text-anchor="end" textLength="28.40" lengthAdjust="spacingAndGlyphs" transform="rotate(-45 317.20 469.70)" stroke="#231f20" stroke-width="0.1">Ibr 1 &#956;M</text>
<text x="350.60" y="469.70" font-size="7.7" text-anchor="end" textLength="38.20" lengthAdjust="spacingAndGlyphs" transform="rotate(-45 350.60 469.70)" stroke="#231f20" stroke-width="0.1">Acala 1 &#956;M</text>
<text x="377.80" y="346.60" font-size="11.8" textLength="6.60" lengthAdjust="spacingAndGlyphs" font-weight="bold">F</text>
<line x1="406.20" y1="363.00" x2="406.20" y2="456.30" stroke="#231f20" stroke-width="1.25"/>
<line x1="405.70" y1="455.80" x2="518.40" y2="455.80" stroke="#231f20" stroke-width="1.25"/>
<line x1="403.00" y1="455.50" x2="406.20" y2="455.50" stroke="#231f20" stroke-width="1.0"/>
<text x="401.30" y="458.50" font-size="8.2" text-anchor="end" textLength="4.40" lengthAdjust="spacingAndGlyphs">0</text>
<line x1="403.00" y1="437.38" x2="406.20" y2="437.38" stroke="#231f20" stroke-width="1.0"/>
<text x="401.30" y="440.38" font-size="8.2" text-anchor="end" textLength="9.00" lengthAdjust="spacingAndGlyphs">10</text>
<line x1="403.00" y1="419.26" x2="406.20" y2="419.26" stroke="#231f20" stroke-width="1.0"/>
<text x="401.30" y="422.26" font-size="8.2" text-anchor="end" textLength="9.00" lengthAdjust="spacingAndGlyphs">20</text>
<line x1="403.00" y1="401.14" x2="406.20" y2="401.14" stroke="#231f20" stroke-width="1.0"/>
<text x="401.30" y="404.14" font-size="8.2" text-anchor="end" textLength="9.00" lengthAdjust="spacingAndGlyphs">30</text>
<line x1="403.00" y1="383.02" x2="406.20" y2="383.02" stroke="#231f20" stroke-width="1.0"/>
<text x="401.30" y="386.02" font-size="8.2" text-anchor="end" textLength="9.00" lengthAdjust="spacingAndGlyphs">40</text>
<line x1="403.00" y1="364.90" x2="406.20" y2="364.90" stroke="#231f20" stroke-width="1.0"/>
<text x="401.30" y="367.90" font-size="8.2" text-anchor="end" textLength="9.00" lengthAdjust="spacingAndGlyphs">50</text>
<line x1="423.30" y1="455.80" x2="423.30" y2="458.60" stroke="#231f20" stroke-width="1.0"/>
<line x1="449.30" y1="455.80" x2="449.30" y2="458.60" stroke="#231f20" stroke-width="1.0"/>
<line x1="475.00" y1="455.80" x2="475.00" y2="458.60" stroke="#231f20" stroke-width="1.0"/>
<line x1="500.50" y1="455.80" x2="500.50" y2="458.60" stroke="#231f20" stroke-width="1.0"/>
<text x="384.20" y="440.80" font-size="8.6" textLength="60.30" lengthAdjust="spacingAndGlyphs" transform="rotate(-90 384.20 440.80)" stroke="#231f20" stroke-width="0.3">Annexin V + cells %</text>
<line x1="423.30" y1="413.00" x2="423.30" y2="419.80" stroke="#8f8a86" stroke-width="1.0"/>
<line x1="419.30" y1="413.00" x2="427.30" y2="413.00" stroke="#8f8a86" stroke-width="1.0"/>
<line x1="419.30" y1="419.80" x2="427.30" y2="419.80" stroke="#8f8a86" stroke-width="1.0"/>
<line x1="416.30" y1="417.40" x2="430.30" y2="417.40" stroke="#8f8a86" stroke-width="1.5"/>
<line x1="449.30" y1="392.20" x2="449.30" y2="408.50" stroke="#8f8a86" stroke-width="1.0"/>
<line x1="445.30" y1="392.20" x2="453.30" y2="392.20" stroke="#8f8a86" stroke-width="1.0"/>
<line x1="445.30" y1="408.50" x2="453.30" y2="408.50" stroke="#8f8a86" stroke-width="1.0"/>
<line x1="440.80" y1="401.90" x2="457.80" y2="401.90" stroke="#8f8a86" stroke-width="1.5"/>
<line x1="474.70" y1="393.20" x2="474.70" y2="408.30" stroke="#8f8a86" stroke-width="1.0"/>
<line x1="470.70" y1="393.20" x2="478.70" y2="393.20" stroke="#8f8a86" stroke-width="1.0"/>
<line x1="470.70" y1="408.30" x2="478.70" y2="408.30" stroke="#8f8a86" stroke-width="1.0"/>
<line x1="466.40" y1="401.70" x2="483.00" y2="401.70" stroke="#8f8a86" stroke-width="1.5"/>
<line x1="500.60" y1="394.80" x2="500.60" y2="409.50" stroke="#8f8a86" stroke-width="1.0"/>
<line x1="496.60" y1="394.80" x2="504.60" y2="394.80" stroke="#8f8a86" stroke-width="1.0"/>
<line x1="496.60" y1="409.50" x2="504.60" y2="409.50" stroke="#8f8a86" stroke-width="1.0"/>
<line x1="492.10" y1="405.70" x2="509.10" y2="405.70" stroke="#8f8a86" stroke-width="1.5"/>
<circle cx="423.10" cy="412.00" r="1.85" fill="#4d7a5e"/>
<circle cx="419.70" cy="417.40" r="1.85" fill="#86284c"/>
<circle cx="426.30" cy="417.40" r="1.4000000000000001" fill="#ffffff" stroke="#c9a13f" stroke-width="1.2"/>
<circle cx="423.10" cy="421.00" r="1.85" fill="#1e2850"/>
<circle cx="449.40" cy="389.70" r="1.85" fill="#4d7a5e"/>
<circle cx="449.40" cy="396.60" r="1.4000000000000001" fill="#ffffff" stroke="#c9a13f" stroke-width="1.2"/>
<circle cx="446.30" cy="407.90" r="1.85" fill="#1e2850"/>
<circle cx="451.80" cy="406.70" r="1.85" fill="#86284c"/>
<circle cx="474.60" cy="389.70" r="1.85" fill="#4d7a5e"/>
<circle cx="472.60" cy="400.60" r="1.4000000000000001" fill="#ffffff" stroke="#c9a13f" stroke-width="1.2"/>
<circle cx="477.60" cy="402.70" r="1.85" fill="#1e2850"/>
<circle cx="474.60" cy="409.70" r="1.85" fill="#86284c"/>
<circle cx="500.50" cy="391.80" r="1.85" fill="#4d7a5e"/>
<circle cx="500.50" cy="402.30" r="1.85" fill="#1e2850"/>
<circle cx="497.80" cy="409.90" r="1.85" fill="#86284c"/>
<circle cx="503.30" cy="408.30" r="1.4000000000000001" fill="#ffffff" stroke="#c9a13f" stroke-width="1.2"/>
<circle cx="449.30" cy="378.20" r="0.85" fill="#231f20"/>
<circle cx="474.80" cy="378.20" r="0.85" fill="#231f20"/>
<text x="489.4" y="388.8" font-size="7.0" font-style="italic" textLength="28.9" lengthAdjust="spacingAndGlyphs" fill="#231f20">P = .0583</text>
<circle cx="410.90" cy="356.60" r="1.3" fill="#1e2850"/>
<text x="414.70" y="359.10" font-size="7.2" textLength="43.30" lengthAdjust="spacingAndGlyphs">BTK WT Pt 1</text>
<circle cx="410.90" cy="365.30" r="1.0" fill="#fff" stroke="#c9a13f" stroke-width="0.8"/>
<text x="414.70" y="367.80" font-size="7.2" textLength="43.30" lengthAdjust="spacingAndGlyphs">BTK WT Pt 5</text>
<circle cx="468.90" cy="356.60" r="1.3" fill="#86284c"/>
<text x="473.00" y="359.10" font-size="7.2" textLength="43.50" lengthAdjust="spacingAndGlyphs">BTK WT Pt 6</text>
<circle cx="468.90" cy="365.30" r="1.3" fill="#4d7a5e"/>
<text x="473.00" y="367.80" font-size="7.2" textLength="43.50" lengthAdjust="spacingAndGlyphs">BTK WT Pt 7</text>
<text x="428.30" y="467.50" font-size="8.0" text-anchor="end" textLength="25.50" lengthAdjust="spacingAndGlyphs" transform="rotate(-45 428.30 467.50)" stroke="#231f20" stroke-width="0.1">DMSO</text>
<text x="452.70" y="467.50" font-size="8.0" text-anchor="end" textLength="37.10" lengthAdjust="spacingAndGlyphs" transform="rotate(-45 452.70 467.50)" stroke="#231f20" stroke-width="0.1">Pirto 1 &#956;M</text>
<text x="478.80" y="467.50" font-size="8.0" text-anchor="end" textLength="29.00" lengthAdjust="spacingAndGlyphs" transform="rotate(-45 478.80 467.50)" stroke="#231f20" stroke-width="0.1">Ibr 1 &#956;M</text>
<text x="504.00" y="467.50" font-size="8.0" text-anchor="end" textLength="39.00" lengthAdjust="spacingAndGlyphs" transform="rotate(-45 504.00 467.50)" stroke="#231f20" stroke-width="0.1">Acala 1 &#956;M</text>
</svg>
</body></html>
